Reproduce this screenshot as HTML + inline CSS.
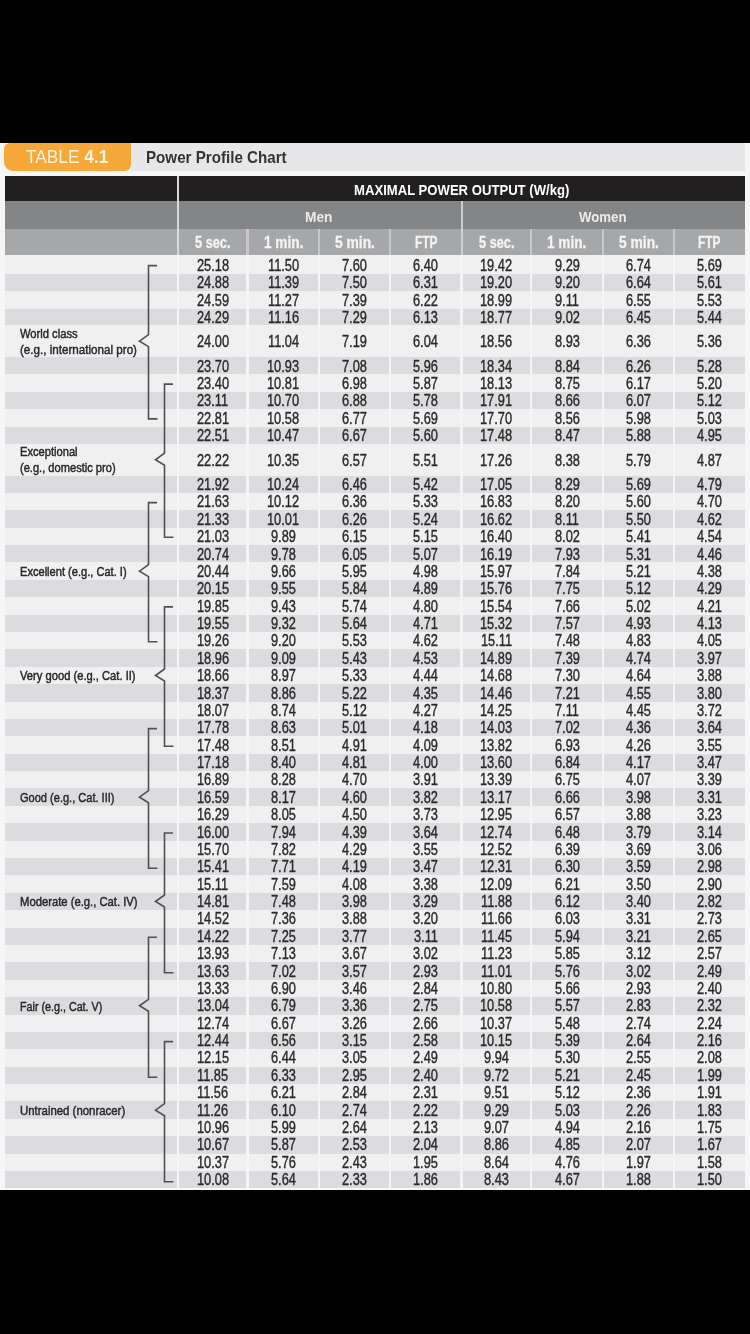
<!DOCTYPE html><html><head><meta charset="utf-8"><style>
html,body{margin:0;padding:0;background:#000;}
body{filter:blur(0.35px);width:750px;height:1334px;background:#000;position:relative;overflow:hidden;font-family:"Liberation Sans",sans-serif;}
.a{position:absolute;}
.t{position:absolute;white-space:nowrap;transform-origin:0 0;line-height:1;}
</style></head><body>

<div class="a" style="left:0;top:143px;width:750px;height:1047px;background:#f6f6f6"></div>
<div class="a" style="left:131px;top:143px;width:614px;height:27.6px;background:#e7e7e9"></div>
<div class="a" style="left:3.5px;top:143px;width:127.5px;height:27.5px;background:#f6a839;border-radius:6px 0 6px 9px"></div>
<div class="a" style="left:5px;top:175.7px;width:740px;height:25.7px;background:#221f20"></div>
<div class="a" style="left:5px;top:201.4px;width:740px;height:27.5px;background:#848587"></div>
<div class="a" style="left:5px;top:228.9px;width:740px;height:26.4px;background:#a6a7a9"></div>
<div class="a" style="left:5px;top:255.30px;width:740px;height:18.75px;background:#f0f0f1"></div>
<div class="a" style="left:5px;top:274.00px;width:740px;height:16.65px;background:#dcdce0"></div>
<div class="a" style="left:5px;top:290.60px;width:740px;height:18.05px;background:#f0f0f1"></div>
<div class="a" style="left:5px;top:308.60px;width:740px;height:16.85px;background:#dcdce0"></div>
<div class="a" style="left:5px;top:325.40px;width:740px;height:31.45px;background:#f0f0f1"></div>
<div class="a" style="left:5px;top:356.80px;width:740px;height:17.65px;background:#dcdce0"></div>
<div class="a" style="left:5px;top:374.40px;width:740px;height:17.55px;background:#f0f0f1"></div>
<div class="a" style="left:5px;top:391.90px;width:740px;height:17.45px;background:#dcdce0"></div>
<div class="a" style="left:5px;top:409.30px;width:740px;height:17.65px;background:#f0f0f1"></div>
<div class="a" style="left:5px;top:426.90px;width:740px;height:17.15px;background:#dcdce0"></div>
<div class="a" style="left:5px;top:444.00px;width:740px;height:31.55px;background:#f0f0f1"></div>
<div class="a" style="left:5px;top:475.50px;width:740px;height:17.44px;background:#dcdce0"></div>
<div class="a" style="left:5px;top:492.89px;width:740px;height:17.44px;background:#f0f0f1"></div>
<div class="a" style="left:5px;top:510.28px;width:740px;height:17.44px;background:#dcdce0"></div>
<div class="a" style="left:5px;top:527.66px;width:740px;height:17.44px;background:#f0f0f1"></div>
<div class="a" style="left:5px;top:545.05px;width:740px;height:17.44px;background:#dcdce0"></div>
<div class="a" style="left:5px;top:562.44px;width:740px;height:17.44px;background:#f0f0f1"></div>
<div class="a" style="left:5px;top:579.83px;width:740px;height:17.44px;background:#dcdce0"></div>
<div class="a" style="left:5px;top:597.21px;width:740px;height:17.44px;background:#f0f0f1"></div>
<div class="a" style="left:5px;top:614.60px;width:740px;height:17.44px;background:#dcdce0"></div>
<div class="a" style="left:5px;top:631.99px;width:740px;height:17.44px;background:#f0f0f1"></div>
<div class="a" style="left:5px;top:649.38px;width:740px;height:17.44px;background:#dcdce0"></div>
<div class="a" style="left:5px;top:666.77px;width:740px;height:17.44px;background:#f0f0f1"></div>
<div class="a" style="left:5px;top:684.15px;width:740px;height:17.44px;background:#dcdce0"></div>
<div class="a" style="left:5px;top:701.54px;width:740px;height:17.44px;background:#f0f0f1"></div>
<div class="a" style="left:5px;top:718.93px;width:740px;height:17.44px;background:#dcdce0"></div>
<div class="a" style="left:5px;top:736.32px;width:740px;height:17.44px;background:#f0f0f1"></div>
<div class="a" style="left:5px;top:753.70px;width:740px;height:17.44px;background:#dcdce0"></div>
<div class="a" style="left:5px;top:771.09px;width:740px;height:17.44px;background:#f0f0f1"></div>
<div class="a" style="left:5px;top:788.48px;width:740px;height:17.44px;background:#dcdce0"></div>
<div class="a" style="left:5px;top:805.87px;width:740px;height:17.44px;background:#f0f0f1"></div>
<div class="a" style="left:5px;top:823.26px;width:740px;height:17.44px;background:#dcdce0"></div>
<div class="a" style="left:5px;top:840.64px;width:740px;height:17.44px;background:#f0f0f1"></div>
<div class="a" style="left:5px;top:858.03px;width:740px;height:17.44px;background:#dcdce0"></div>
<div class="a" style="left:5px;top:875.42px;width:740px;height:17.44px;background:#f0f0f1"></div>
<div class="a" style="left:5px;top:892.81px;width:740px;height:17.44px;background:#dcdce0"></div>
<div class="a" style="left:5px;top:910.20px;width:740px;height:17.44px;background:#f0f0f1"></div>
<div class="a" style="left:5px;top:927.58px;width:740px;height:17.44px;background:#dcdce0"></div>
<div class="a" style="left:5px;top:944.97px;width:740px;height:17.44px;background:#f0f0f1"></div>
<div class="a" style="left:5px;top:962.36px;width:740px;height:17.44px;background:#dcdce0"></div>
<div class="a" style="left:5px;top:979.75px;width:740px;height:17.44px;background:#f0f0f1"></div>
<div class="a" style="left:5px;top:997.13px;width:740px;height:17.44px;background:#dcdce0"></div>
<div class="a" style="left:5px;top:1014.52px;width:740px;height:17.44px;background:#f0f0f1"></div>
<div class="a" style="left:5px;top:1031.91px;width:740px;height:17.44px;background:#dcdce0"></div>
<div class="a" style="left:5px;top:1049.30px;width:740px;height:17.44px;background:#f0f0f1"></div>
<div class="a" style="left:5px;top:1066.69px;width:740px;height:17.44px;background:#dcdce0"></div>
<div class="a" style="left:5px;top:1084.07px;width:740px;height:17.44px;background:#f0f0f1"></div>
<div class="a" style="left:5px;top:1101.46px;width:740px;height:17.44px;background:#dcdce0"></div>
<div class="a" style="left:5px;top:1118.85px;width:740px;height:17.44px;background:#f0f0f1"></div>
<div class="a" style="left:5px;top:1136.24px;width:740px;height:17.44px;background:#dcdce0"></div>
<div class="a" style="left:5px;top:1153.62px;width:740px;height:17.44px;background:#f0f0f1"></div>
<div class="a" style="left:5px;top:1171.01px;width:740px;height:17.44px;background:#dcdce0"></div>
<div class="a" style="left:0;top:1188.4px;width:750px;height:1.4px;background:#f8f8f8"></div>
<div class="a" style="left:176.50px;top:175.7px;width:2.4px;height:79.6px;background:#d8d8da"></div>
<div class="a" style="left:176.50px;top:255.3px;width:2.4px;height:933.1px;background:#f6f6f7"></div>
<div class="a" style="left:460.50px;top:201.4px;width:2.0px;height:53.9px;background:#cfcfd1"></div>
<div class="a" style="left:460.40px;top:255.3px;width:2.2px;height:933.1px;background:#f5f5f6"></div>
<div class="a" style="left:246.40px;top:228.9px;width:2.2px;height:26.4px;background:#c8c8ca"></div>
<div class="a" style="left:246.40px;top:255.3px;width:2.2px;height:933.1px;background:#f5f5f6"></div>
<div class="a" style="left:317.70px;top:228.9px;width:2.2px;height:26.4px;background:#c8c8ca"></div>
<div class="a" style="left:317.70px;top:255.3px;width:2.2px;height:933.1px;background:#f5f5f6"></div>
<div class="a" style="left:389.10px;top:228.9px;width:2.2px;height:26.4px;background:#c8c8ca"></div>
<div class="a" style="left:389.10px;top:255.3px;width:2.2px;height:933.1px;background:#f5f5f6"></div>
<div class="a" style="left:529.90px;top:228.9px;width:2.2px;height:26.4px;background:#c8c8ca"></div>
<div class="a" style="left:529.90px;top:255.3px;width:2.2px;height:933.1px;background:#f5f5f6"></div>
<div class="a" style="left:601.90px;top:228.9px;width:2.2px;height:26.4px;background:#c8c8ca"></div>
<div class="a" style="left:601.90px;top:255.3px;width:2.2px;height:933.1px;background:#f5f5f6"></div>
<div class="a" style="left:673.20px;top:228.9px;width:2.2px;height:26.4px;background:#c8c8ca"></div>
<div class="a" style="left:673.20px;top:255.3px;width:2.2px;height:933.1px;background:#f5f5f6"></div>
<div class="t" style="left:25.60px;top:147.76px;font-size:18px;color:#fdf2dc;transform:scaleX(0.9613);">TABLE <b>4.1</b></div>
<div class="t" style="left:145.90px;top:148.73px;font-size:16.5px;font-weight:bold;color:#333333;transform:scaleX(0.9182);">Power Profile Chart</div>
<div class="t" style="left:354.00px;top:182.20px;font-size:15px;font-weight:bold;color:#ffffff;transform:scaleX(0.8739);">MAXIMAL POWER OUTPUT (W/kg)</div>
<div class="t" style="left:305.15px;top:209.93px;font-size:14.5px;font-weight:bold;color:#ebebeb;transform:scaleX(0.9482);">Men</div>
<div class="t" style="left:578.95px;top:209.53px;font-size:14.5px;font-weight:bold;color:#ebebeb;transform:scaleX(0.9118);">Women</div>
<div class="t" style="left:194.85px;top:234.66px;font-size:16px;font-weight:bold;color:#f4f4f4;transform:scaleX(0.7980);-webkit-text-stroke:0.3px #f4f4f4">5 sec.</div>
<div class="t" style="left:263.55px;top:234.66px;font-size:16px;font-weight:bold;color:#f4f4f4;transform:scaleX(0.8479);-webkit-text-stroke:0.3px #f4f4f4">1 min.</div>
<div class="t" style="left:334.55px;top:234.66px;font-size:16px;font-weight:bold;color:#f4f4f4;transform:scaleX(0.8630);-webkit-text-stroke:0.3px #f4f4f4">5 min.</div>
<div class="t" style="left:414.60px;top:234.66px;font-size:16px;font-weight:bold;color:#f4f4f4;transform:scaleX(0.7445);-webkit-text-stroke:0.3px #f4f4f4">FTP</div>
<div class="t" style="left:478.50px;top:234.66px;font-size:16px;font-weight:bold;color:#f4f4f4;transform:scaleX(0.7980);-webkit-text-stroke:0.3px #f4f4f4">5 sec.</div>
<div class="t" style="left:547.40px;top:234.66px;font-size:16px;font-weight:bold;color:#f4f4f4;transform:scaleX(0.8479);-webkit-text-stroke:0.3px #f4f4f4">1 min.</div>
<div class="t" style="left:618.70px;top:234.66px;font-size:16px;font-weight:bold;color:#f4f4f4;transform:scaleX(0.8630);-webkit-text-stroke:0.3px #f4f4f4">5 min.</div>
<div class="t" style="left:698.40px;top:234.66px;font-size:16px;font-weight:bold;color:#f4f4f4;transform:scaleX(0.7445);-webkit-text-stroke:0.3px #f4f4f4">FTP</div>
<div class="t" style="left:196.58px;top:257.61px;font-size:16px;font-weight:normal;color:#2a2a2a;transform:scaleX(0.8000);-webkit-text-stroke:0.4px #2a2a2a">25.18</div>
<div class="t" style="left:267.61px;top:257.61px;font-size:16px;font-weight:normal;color:#2a2a2a;transform:scaleX(0.8000);-webkit-text-stroke:0.4px #2a2a2a">11.50</div>
<div class="t" style="left:342.04px;top:257.61px;font-size:16px;font-weight:normal;color:#2a2a2a;transform:scaleX(0.8000);-webkit-text-stroke:0.4px #2a2a2a">7.60</div>
<div class="t" style="left:413.39px;top:257.61px;font-size:16px;font-weight:normal;color:#2a2a2a;transform:scaleX(0.8000);-webkit-text-stroke:0.4px #2a2a2a">6.40</div>
<div class="t" style="left:480.23px;top:257.61px;font-size:16px;font-weight:normal;color:#2a2a2a;transform:scaleX(0.8000);-webkit-text-stroke:0.4px #2a2a2a">19.42</div>
<div class="t" style="left:554.54px;top:257.61px;font-size:16px;font-weight:normal;color:#2a2a2a;transform:scaleX(0.8000);-webkit-text-stroke:0.4px #2a2a2a">9.29</div>
<div class="t" style="left:626.19px;top:257.61px;font-size:16px;font-weight:normal;color:#2a2a2a;transform:scaleX(0.8000);-webkit-text-stroke:0.4px #2a2a2a">6.74</div>
<div class="t" style="left:697.19px;top:257.61px;font-size:16px;font-weight:normal;color:#2a2a2a;transform:scaleX(0.8000);-webkit-text-stroke:0.4px #2a2a2a">5.69</div>
<div class="t" style="left:196.58px;top:275.24px;font-size:16px;font-weight:normal;color:#2a2a2a;transform:scaleX(0.8000);-webkit-text-stroke:0.4px #2a2a2a">24.88</div>
<div class="t" style="left:267.61px;top:275.24px;font-size:16px;font-weight:normal;color:#2a2a2a;transform:scaleX(0.8000);-webkit-text-stroke:0.4px #2a2a2a">11.39</div>
<div class="t" style="left:342.04px;top:275.24px;font-size:16px;font-weight:normal;color:#2a2a2a;transform:scaleX(0.8000);-webkit-text-stroke:0.4px #2a2a2a">7.50</div>
<div class="t" style="left:413.39px;top:275.24px;font-size:16px;font-weight:normal;color:#2a2a2a;transform:scaleX(0.8000);-webkit-text-stroke:0.4px #2a2a2a">6.31</div>
<div class="t" style="left:480.23px;top:275.24px;font-size:16px;font-weight:normal;color:#2a2a2a;transform:scaleX(0.8000);-webkit-text-stroke:0.4px #2a2a2a">19.20</div>
<div class="t" style="left:554.54px;top:275.24px;font-size:16px;font-weight:normal;color:#2a2a2a;transform:scaleX(0.8000);-webkit-text-stroke:0.4px #2a2a2a">9.20</div>
<div class="t" style="left:626.19px;top:275.24px;font-size:16px;font-weight:normal;color:#2a2a2a;transform:scaleX(0.8000);-webkit-text-stroke:0.4px #2a2a2a">6.64</div>
<div class="t" style="left:697.19px;top:275.24px;font-size:16px;font-weight:normal;color:#2a2a2a;transform:scaleX(0.8000);-webkit-text-stroke:0.4px #2a2a2a">5.61</div>
<div class="t" style="left:196.58px;top:292.53px;font-size:16px;font-weight:normal;color:#2a2a2a;transform:scaleX(0.8000);-webkit-text-stroke:0.4px #2a2a2a">24.59</div>
<div class="t" style="left:267.61px;top:292.53px;font-size:16px;font-weight:normal;color:#2a2a2a;transform:scaleX(0.8000);-webkit-text-stroke:0.4px #2a2a2a">11.27</div>
<div class="t" style="left:342.04px;top:292.53px;font-size:16px;font-weight:normal;color:#2a2a2a;transform:scaleX(0.8000);-webkit-text-stroke:0.4px #2a2a2a">7.39</div>
<div class="t" style="left:413.39px;top:292.53px;font-size:16px;font-weight:normal;color:#2a2a2a;transform:scaleX(0.8000);-webkit-text-stroke:0.4px #2a2a2a">6.22</div>
<div class="t" style="left:480.23px;top:292.53px;font-size:16px;font-weight:normal;color:#2a2a2a;transform:scaleX(0.8000);-webkit-text-stroke:0.4px #2a2a2a">18.99</div>
<div class="t" style="left:555.02px;top:292.53px;font-size:16px;font-weight:normal;color:#2a2a2a;transform:scaleX(0.8000);-webkit-text-stroke:0.4px #2a2a2a">9.11</div>
<div class="t" style="left:626.19px;top:292.53px;font-size:16px;font-weight:normal;color:#2a2a2a;transform:scaleX(0.8000);-webkit-text-stroke:0.4px #2a2a2a">6.55</div>
<div class="t" style="left:697.19px;top:292.53px;font-size:16px;font-weight:normal;color:#2a2a2a;transform:scaleX(0.8000);-webkit-text-stroke:0.4px #2a2a2a">5.53</div>
<div class="t" style="left:196.58px;top:309.92px;font-size:16px;font-weight:normal;color:#2a2a2a;transform:scaleX(0.8000);-webkit-text-stroke:0.4px #2a2a2a">24.29</div>
<div class="t" style="left:267.61px;top:309.92px;font-size:16px;font-weight:normal;color:#2a2a2a;transform:scaleX(0.8000);-webkit-text-stroke:0.4px #2a2a2a">11.16</div>
<div class="t" style="left:342.04px;top:309.92px;font-size:16px;font-weight:normal;color:#2a2a2a;transform:scaleX(0.8000);-webkit-text-stroke:0.4px #2a2a2a">7.29</div>
<div class="t" style="left:413.39px;top:309.92px;font-size:16px;font-weight:normal;color:#2a2a2a;transform:scaleX(0.8000);-webkit-text-stroke:0.4px #2a2a2a">6.13</div>
<div class="t" style="left:480.23px;top:309.92px;font-size:16px;font-weight:normal;color:#2a2a2a;transform:scaleX(0.8000);-webkit-text-stroke:0.4px #2a2a2a">18.77</div>
<div class="t" style="left:554.54px;top:309.92px;font-size:16px;font-weight:normal;color:#2a2a2a;transform:scaleX(0.8000);-webkit-text-stroke:0.4px #2a2a2a">9.02</div>
<div class="t" style="left:626.19px;top:309.92px;font-size:16px;font-weight:normal;color:#2a2a2a;transform:scaleX(0.8000);-webkit-text-stroke:0.4px #2a2a2a">6.45</div>
<div class="t" style="left:697.19px;top:309.92px;font-size:16px;font-weight:normal;color:#2a2a2a;transform:scaleX(0.8000);-webkit-text-stroke:0.4px #2a2a2a">5.44</div>
<div class="t" style="left:196.58px;top:334.01px;font-size:16px;font-weight:normal;color:#2a2a2a;transform:scaleX(0.8000);-webkit-text-stroke:0.4px #2a2a2a">24.00</div>
<div class="t" style="left:267.61px;top:334.01px;font-size:16px;font-weight:normal;color:#2a2a2a;transform:scaleX(0.8000);-webkit-text-stroke:0.4px #2a2a2a">11.04</div>
<div class="t" style="left:342.04px;top:334.01px;font-size:16px;font-weight:normal;color:#2a2a2a;transform:scaleX(0.8000);-webkit-text-stroke:0.4px #2a2a2a">7.19</div>
<div class="t" style="left:413.39px;top:334.01px;font-size:16px;font-weight:normal;color:#2a2a2a;transform:scaleX(0.8000);-webkit-text-stroke:0.4px #2a2a2a">6.04</div>
<div class="t" style="left:480.23px;top:334.01px;font-size:16px;font-weight:normal;color:#2a2a2a;transform:scaleX(0.8000);-webkit-text-stroke:0.4px #2a2a2a">18.56</div>
<div class="t" style="left:554.54px;top:334.01px;font-size:16px;font-weight:normal;color:#2a2a2a;transform:scaleX(0.8000);-webkit-text-stroke:0.4px #2a2a2a">8.93</div>
<div class="t" style="left:626.19px;top:334.01px;font-size:16px;font-weight:normal;color:#2a2a2a;transform:scaleX(0.8000);-webkit-text-stroke:0.4px #2a2a2a">6.36</div>
<div class="t" style="left:697.19px;top:334.01px;font-size:16px;font-weight:normal;color:#2a2a2a;transform:scaleX(0.8000);-webkit-text-stroke:0.4px #2a2a2a">5.36</div>
<div class="t" style="left:196.58px;top:358.50px;font-size:16px;font-weight:normal;color:#2a2a2a;transform:scaleX(0.8000);-webkit-text-stroke:0.4px #2a2a2a">23.70</div>
<div class="t" style="left:267.13px;top:358.50px;font-size:16px;font-weight:normal;color:#2a2a2a;transform:scaleX(0.8000);-webkit-text-stroke:0.4px #2a2a2a">10.93</div>
<div class="t" style="left:342.04px;top:358.50px;font-size:16px;font-weight:normal;color:#2a2a2a;transform:scaleX(0.8000);-webkit-text-stroke:0.4px #2a2a2a">7.08</div>
<div class="t" style="left:413.39px;top:358.50px;font-size:16px;font-weight:normal;color:#2a2a2a;transform:scaleX(0.8000);-webkit-text-stroke:0.4px #2a2a2a">5.96</div>
<div class="t" style="left:480.23px;top:358.50px;font-size:16px;font-weight:normal;color:#2a2a2a;transform:scaleX(0.8000);-webkit-text-stroke:0.4px #2a2a2a">18.34</div>
<div class="t" style="left:554.54px;top:358.50px;font-size:16px;font-weight:normal;color:#2a2a2a;transform:scaleX(0.8000);-webkit-text-stroke:0.4px #2a2a2a">8.84</div>
<div class="t" style="left:626.19px;top:358.50px;font-size:16px;font-weight:normal;color:#2a2a2a;transform:scaleX(0.8000);-webkit-text-stroke:0.4px #2a2a2a">6.26</div>
<div class="t" style="left:697.19px;top:358.50px;font-size:16px;font-weight:normal;color:#2a2a2a;transform:scaleX(0.8000);-webkit-text-stroke:0.4px #2a2a2a">5.28</div>
<div class="t" style="left:196.58px;top:376.04px;font-size:16px;font-weight:normal;color:#2a2a2a;transform:scaleX(0.8000);-webkit-text-stroke:0.4px #2a2a2a">23.40</div>
<div class="t" style="left:267.13px;top:376.04px;font-size:16px;font-weight:normal;color:#2a2a2a;transform:scaleX(0.8000);-webkit-text-stroke:0.4px #2a2a2a">10.81</div>
<div class="t" style="left:342.04px;top:376.04px;font-size:16px;font-weight:normal;color:#2a2a2a;transform:scaleX(0.8000);-webkit-text-stroke:0.4px #2a2a2a">6.98</div>
<div class="t" style="left:413.39px;top:376.04px;font-size:16px;font-weight:normal;color:#2a2a2a;transform:scaleX(0.8000);-webkit-text-stroke:0.4px #2a2a2a">5.87</div>
<div class="t" style="left:480.23px;top:376.04px;font-size:16px;font-weight:normal;color:#2a2a2a;transform:scaleX(0.8000);-webkit-text-stroke:0.4px #2a2a2a">18.13</div>
<div class="t" style="left:554.54px;top:376.04px;font-size:16px;font-weight:normal;color:#2a2a2a;transform:scaleX(0.8000);-webkit-text-stroke:0.4px #2a2a2a">8.75</div>
<div class="t" style="left:626.19px;top:376.04px;font-size:16px;font-weight:normal;color:#2a2a2a;transform:scaleX(0.8000);-webkit-text-stroke:0.4px #2a2a2a">6.17</div>
<div class="t" style="left:697.19px;top:376.04px;font-size:16px;font-weight:normal;color:#2a2a2a;transform:scaleX(0.8000);-webkit-text-stroke:0.4px #2a2a2a">5.20</div>
<div class="t" style="left:197.06px;top:393.47px;font-size:16px;font-weight:normal;color:#2a2a2a;transform:scaleX(0.8000);-webkit-text-stroke:0.4px #2a2a2a">23.11</div>
<div class="t" style="left:267.13px;top:393.47px;font-size:16px;font-weight:normal;color:#2a2a2a;transform:scaleX(0.8000);-webkit-text-stroke:0.4px #2a2a2a">10.70</div>
<div class="t" style="left:342.04px;top:393.47px;font-size:16px;font-weight:normal;color:#2a2a2a;transform:scaleX(0.8000);-webkit-text-stroke:0.4px #2a2a2a">6.88</div>
<div class="t" style="left:413.39px;top:393.47px;font-size:16px;font-weight:normal;color:#2a2a2a;transform:scaleX(0.8000);-webkit-text-stroke:0.4px #2a2a2a">5.78</div>
<div class="t" style="left:480.23px;top:393.47px;font-size:16px;font-weight:normal;color:#2a2a2a;transform:scaleX(0.8000);-webkit-text-stroke:0.4px #2a2a2a">17.91</div>
<div class="t" style="left:554.54px;top:393.47px;font-size:16px;font-weight:normal;color:#2a2a2a;transform:scaleX(0.8000);-webkit-text-stroke:0.4px #2a2a2a">8.66</div>
<div class="t" style="left:626.19px;top:393.47px;font-size:16px;font-weight:normal;color:#2a2a2a;transform:scaleX(0.8000);-webkit-text-stroke:0.4px #2a2a2a">6.07</div>
<div class="t" style="left:697.19px;top:393.47px;font-size:16px;font-weight:normal;color:#2a2a2a;transform:scaleX(0.8000);-webkit-text-stroke:0.4px #2a2a2a">5.12</div>
<div class="t" style="left:196.58px;top:410.96px;font-size:16px;font-weight:normal;color:#2a2a2a;transform:scaleX(0.8000);-webkit-text-stroke:0.4px #2a2a2a">22.81</div>
<div class="t" style="left:267.13px;top:410.96px;font-size:16px;font-weight:normal;color:#2a2a2a;transform:scaleX(0.8000);-webkit-text-stroke:0.4px #2a2a2a">10.58</div>
<div class="t" style="left:342.04px;top:410.96px;font-size:16px;font-weight:normal;color:#2a2a2a;transform:scaleX(0.8000);-webkit-text-stroke:0.4px #2a2a2a">6.77</div>
<div class="t" style="left:413.39px;top:410.96px;font-size:16px;font-weight:normal;color:#2a2a2a;transform:scaleX(0.8000);-webkit-text-stroke:0.4px #2a2a2a">5.69</div>
<div class="t" style="left:480.23px;top:410.96px;font-size:16px;font-weight:normal;color:#2a2a2a;transform:scaleX(0.8000);-webkit-text-stroke:0.4px #2a2a2a">17.70</div>
<div class="t" style="left:554.54px;top:410.96px;font-size:16px;font-weight:normal;color:#2a2a2a;transform:scaleX(0.8000);-webkit-text-stroke:0.4px #2a2a2a">8.56</div>
<div class="t" style="left:626.19px;top:410.96px;font-size:16px;font-weight:normal;color:#2a2a2a;transform:scaleX(0.8000);-webkit-text-stroke:0.4px #2a2a2a">5.98</div>
<div class="t" style="left:697.19px;top:410.96px;font-size:16px;font-weight:normal;color:#2a2a2a;transform:scaleX(0.8000);-webkit-text-stroke:0.4px #2a2a2a">5.03</div>
<div class="t" style="left:196.58px;top:428.30px;font-size:16px;font-weight:normal;color:#2a2a2a;transform:scaleX(0.8000);-webkit-text-stroke:0.4px #2a2a2a">22.51</div>
<div class="t" style="left:267.13px;top:428.30px;font-size:16px;font-weight:normal;color:#2a2a2a;transform:scaleX(0.8000);-webkit-text-stroke:0.4px #2a2a2a">10.47</div>
<div class="t" style="left:342.04px;top:428.30px;font-size:16px;font-weight:normal;color:#2a2a2a;transform:scaleX(0.8000);-webkit-text-stroke:0.4px #2a2a2a">6.67</div>
<div class="t" style="left:413.39px;top:428.30px;font-size:16px;font-weight:normal;color:#2a2a2a;transform:scaleX(0.8000);-webkit-text-stroke:0.4px #2a2a2a">5.60</div>
<div class="t" style="left:480.23px;top:428.30px;font-size:16px;font-weight:normal;color:#2a2a2a;transform:scaleX(0.8000);-webkit-text-stroke:0.4px #2a2a2a">17.48</div>
<div class="t" style="left:554.54px;top:428.30px;font-size:16px;font-weight:normal;color:#2a2a2a;transform:scaleX(0.8000);-webkit-text-stroke:0.4px #2a2a2a">8.47</div>
<div class="t" style="left:626.19px;top:428.30px;font-size:16px;font-weight:normal;color:#2a2a2a;transform:scaleX(0.8000);-webkit-text-stroke:0.4px #2a2a2a">5.88</div>
<div class="t" style="left:697.19px;top:428.30px;font-size:16px;font-weight:normal;color:#2a2a2a;transform:scaleX(0.8000);-webkit-text-stroke:0.4px #2a2a2a">4.95</div>
<div class="t" style="left:196.58px;top:452.59px;font-size:16px;font-weight:normal;color:#2a2a2a;transform:scaleX(0.8000);-webkit-text-stroke:0.4px #2a2a2a">22.22</div>
<div class="t" style="left:267.13px;top:452.59px;font-size:16px;font-weight:normal;color:#2a2a2a;transform:scaleX(0.8000);-webkit-text-stroke:0.4px #2a2a2a">10.35</div>
<div class="t" style="left:342.04px;top:452.59px;font-size:16px;font-weight:normal;color:#2a2a2a;transform:scaleX(0.8000);-webkit-text-stroke:0.4px #2a2a2a">6.57</div>
<div class="t" style="left:413.39px;top:452.59px;font-size:16px;font-weight:normal;color:#2a2a2a;transform:scaleX(0.8000);-webkit-text-stroke:0.4px #2a2a2a">5.51</div>
<div class="t" style="left:480.23px;top:452.59px;font-size:16px;font-weight:normal;color:#2a2a2a;transform:scaleX(0.8000);-webkit-text-stroke:0.4px #2a2a2a">17.26</div>
<div class="t" style="left:554.54px;top:452.59px;font-size:16px;font-weight:normal;color:#2a2a2a;transform:scaleX(0.8000);-webkit-text-stroke:0.4px #2a2a2a">8.38</div>
<div class="t" style="left:626.19px;top:452.59px;font-size:16px;font-weight:normal;color:#2a2a2a;transform:scaleX(0.8000);-webkit-text-stroke:0.4px #2a2a2a">5.79</div>
<div class="t" style="left:697.19px;top:452.59px;font-size:16px;font-weight:normal;color:#2a2a2a;transform:scaleX(0.8000);-webkit-text-stroke:0.4px #2a2a2a">4.87</div>
<div class="t" style="left:196.58px;top:477.02px;font-size:16px;font-weight:normal;color:#2a2a2a;transform:scaleX(0.8000);-webkit-text-stroke:0.4px #2a2a2a">21.92</div>
<div class="t" style="left:267.13px;top:477.02px;font-size:16px;font-weight:normal;color:#2a2a2a;transform:scaleX(0.8000);-webkit-text-stroke:0.4px #2a2a2a">10.24</div>
<div class="t" style="left:342.04px;top:477.02px;font-size:16px;font-weight:normal;color:#2a2a2a;transform:scaleX(0.8000);-webkit-text-stroke:0.4px #2a2a2a">6.46</div>
<div class="t" style="left:413.39px;top:477.02px;font-size:16px;font-weight:normal;color:#2a2a2a;transform:scaleX(0.8000);-webkit-text-stroke:0.4px #2a2a2a">5.42</div>
<div class="t" style="left:480.23px;top:477.02px;font-size:16px;font-weight:normal;color:#2a2a2a;transform:scaleX(0.8000);-webkit-text-stroke:0.4px #2a2a2a">17.05</div>
<div class="t" style="left:554.54px;top:477.02px;font-size:16px;font-weight:normal;color:#2a2a2a;transform:scaleX(0.8000);-webkit-text-stroke:0.4px #2a2a2a">8.29</div>
<div class="t" style="left:626.19px;top:477.02px;font-size:16px;font-weight:normal;color:#2a2a2a;transform:scaleX(0.8000);-webkit-text-stroke:0.4px #2a2a2a">5.69</div>
<div class="t" style="left:697.19px;top:477.02px;font-size:16px;font-weight:normal;color:#2a2a2a;transform:scaleX(0.8000);-webkit-text-stroke:0.4px #2a2a2a">4.79</div>
<div class="t" style="left:196.58px;top:494.40px;font-size:16px;font-weight:normal;color:#2a2a2a;transform:scaleX(0.8000);-webkit-text-stroke:0.4px #2a2a2a">21.63</div>
<div class="t" style="left:267.13px;top:494.40px;font-size:16px;font-weight:normal;color:#2a2a2a;transform:scaleX(0.8000);-webkit-text-stroke:0.4px #2a2a2a">10.12</div>
<div class="t" style="left:342.04px;top:494.40px;font-size:16px;font-weight:normal;color:#2a2a2a;transform:scaleX(0.8000);-webkit-text-stroke:0.4px #2a2a2a">6.36</div>
<div class="t" style="left:413.39px;top:494.40px;font-size:16px;font-weight:normal;color:#2a2a2a;transform:scaleX(0.8000);-webkit-text-stroke:0.4px #2a2a2a">5.33</div>
<div class="t" style="left:480.23px;top:494.40px;font-size:16px;font-weight:normal;color:#2a2a2a;transform:scaleX(0.8000);-webkit-text-stroke:0.4px #2a2a2a">16.83</div>
<div class="t" style="left:554.54px;top:494.40px;font-size:16px;font-weight:normal;color:#2a2a2a;transform:scaleX(0.8000);-webkit-text-stroke:0.4px #2a2a2a">8.20</div>
<div class="t" style="left:626.19px;top:494.40px;font-size:16px;font-weight:normal;color:#2a2a2a;transform:scaleX(0.8000);-webkit-text-stroke:0.4px #2a2a2a">5.60</div>
<div class="t" style="left:697.19px;top:494.40px;font-size:16px;font-weight:normal;color:#2a2a2a;transform:scaleX(0.8000);-webkit-text-stroke:0.4px #2a2a2a">4.70</div>
<div class="t" style="left:196.58px;top:511.77px;font-size:16px;font-weight:normal;color:#2a2a2a;transform:scaleX(0.8000);-webkit-text-stroke:0.4px #2a2a2a">21.33</div>
<div class="t" style="left:267.13px;top:511.77px;font-size:16px;font-weight:normal;color:#2a2a2a;transform:scaleX(0.8000);-webkit-text-stroke:0.4px #2a2a2a">10.01</div>
<div class="t" style="left:342.04px;top:511.77px;font-size:16px;font-weight:normal;color:#2a2a2a;transform:scaleX(0.8000);-webkit-text-stroke:0.4px #2a2a2a">6.26</div>
<div class="t" style="left:413.39px;top:511.77px;font-size:16px;font-weight:normal;color:#2a2a2a;transform:scaleX(0.8000);-webkit-text-stroke:0.4px #2a2a2a">5.24</div>
<div class="t" style="left:480.23px;top:511.77px;font-size:16px;font-weight:normal;color:#2a2a2a;transform:scaleX(0.8000);-webkit-text-stroke:0.4px #2a2a2a">16.62</div>
<div class="t" style="left:555.02px;top:511.77px;font-size:16px;font-weight:normal;color:#2a2a2a;transform:scaleX(0.8000);-webkit-text-stroke:0.4px #2a2a2a">8.11</div>
<div class="t" style="left:626.19px;top:511.77px;font-size:16px;font-weight:normal;color:#2a2a2a;transform:scaleX(0.8000);-webkit-text-stroke:0.4px #2a2a2a">5.50</div>
<div class="t" style="left:697.19px;top:511.77px;font-size:16px;font-weight:normal;color:#2a2a2a;transform:scaleX(0.8000);-webkit-text-stroke:0.4px #2a2a2a">4.62</div>
<div class="t" style="left:196.58px;top:529.15px;font-size:16px;font-weight:normal;color:#2a2a2a;transform:scaleX(0.8000);-webkit-text-stroke:0.4px #2a2a2a">21.03</div>
<div class="t" style="left:270.69px;top:529.15px;font-size:16px;font-weight:normal;color:#2a2a2a;transform:scaleX(0.8000);-webkit-text-stroke:0.4px #2a2a2a">9.89</div>
<div class="t" style="left:342.04px;top:529.15px;font-size:16px;font-weight:normal;color:#2a2a2a;transform:scaleX(0.8000);-webkit-text-stroke:0.4px #2a2a2a">6.15</div>
<div class="t" style="left:413.39px;top:529.15px;font-size:16px;font-weight:normal;color:#2a2a2a;transform:scaleX(0.8000);-webkit-text-stroke:0.4px #2a2a2a">5.15</div>
<div class="t" style="left:480.23px;top:529.15px;font-size:16px;font-weight:normal;color:#2a2a2a;transform:scaleX(0.8000);-webkit-text-stroke:0.4px #2a2a2a">16.40</div>
<div class="t" style="left:554.54px;top:529.15px;font-size:16px;font-weight:normal;color:#2a2a2a;transform:scaleX(0.8000);-webkit-text-stroke:0.4px #2a2a2a">8.02</div>
<div class="t" style="left:626.19px;top:529.15px;font-size:16px;font-weight:normal;color:#2a2a2a;transform:scaleX(0.8000);-webkit-text-stroke:0.4px #2a2a2a">5.41</div>
<div class="t" style="left:697.19px;top:529.15px;font-size:16px;font-weight:normal;color:#2a2a2a;transform:scaleX(0.8000);-webkit-text-stroke:0.4px #2a2a2a">4.54</div>
<div class="t" style="left:196.58px;top:546.52px;font-size:16px;font-weight:normal;color:#2a2a2a;transform:scaleX(0.8000);-webkit-text-stroke:0.4px #2a2a2a">20.74</div>
<div class="t" style="left:270.69px;top:546.52px;font-size:16px;font-weight:normal;color:#2a2a2a;transform:scaleX(0.8000);-webkit-text-stroke:0.4px #2a2a2a">9.78</div>
<div class="t" style="left:342.04px;top:546.52px;font-size:16px;font-weight:normal;color:#2a2a2a;transform:scaleX(0.8000);-webkit-text-stroke:0.4px #2a2a2a">6.05</div>
<div class="t" style="left:413.39px;top:546.52px;font-size:16px;font-weight:normal;color:#2a2a2a;transform:scaleX(0.8000);-webkit-text-stroke:0.4px #2a2a2a">5.07</div>
<div class="t" style="left:480.23px;top:546.52px;font-size:16px;font-weight:normal;color:#2a2a2a;transform:scaleX(0.8000);-webkit-text-stroke:0.4px #2a2a2a">16.19</div>
<div class="t" style="left:554.54px;top:546.52px;font-size:16px;font-weight:normal;color:#2a2a2a;transform:scaleX(0.8000);-webkit-text-stroke:0.4px #2a2a2a">7.93</div>
<div class="t" style="left:626.19px;top:546.52px;font-size:16px;font-weight:normal;color:#2a2a2a;transform:scaleX(0.8000);-webkit-text-stroke:0.4px #2a2a2a">5.31</div>
<div class="t" style="left:697.19px;top:546.52px;font-size:16px;font-weight:normal;color:#2a2a2a;transform:scaleX(0.8000);-webkit-text-stroke:0.4px #2a2a2a">4.46</div>
<div class="t" style="left:196.58px;top:563.90px;font-size:16px;font-weight:normal;color:#2a2a2a;transform:scaleX(0.8000);-webkit-text-stroke:0.4px #2a2a2a">20.44</div>
<div class="t" style="left:270.69px;top:563.90px;font-size:16px;font-weight:normal;color:#2a2a2a;transform:scaleX(0.8000);-webkit-text-stroke:0.4px #2a2a2a">9.66</div>
<div class="t" style="left:342.04px;top:563.90px;font-size:16px;font-weight:normal;color:#2a2a2a;transform:scaleX(0.8000);-webkit-text-stroke:0.4px #2a2a2a">5.95</div>
<div class="t" style="left:413.39px;top:563.90px;font-size:16px;font-weight:normal;color:#2a2a2a;transform:scaleX(0.8000);-webkit-text-stroke:0.4px #2a2a2a">4.98</div>
<div class="t" style="left:480.23px;top:563.90px;font-size:16px;font-weight:normal;color:#2a2a2a;transform:scaleX(0.8000);-webkit-text-stroke:0.4px #2a2a2a">15.97</div>
<div class="t" style="left:554.54px;top:563.90px;font-size:16px;font-weight:normal;color:#2a2a2a;transform:scaleX(0.8000);-webkit-text-stroke:0.4px #2a2a2a">7.84</div>
<div class="t" style="left:626.19px;top:563.90px;font-size:16px;font-weight:normal;color:#2a2a2a;transform:scaleX(0.8000);-webkit-text-stroke:0.4px #2a2a2a">5.21</div>
<div class="t" style="left:697.19px;top:563.90px;font-size:16px;font-weight:normal;color:#2a2a2a;transform:scaleX(0.8000);-webkit-text-stroke:0.4px #2a2a2a">4.38</div>
<div class="t" style="left:196.58px;top:581.28px;font-size:16px;font-weight:normal;color:#2a2a2a;transform:scaleX(0.8000);-webkit-text-stroke:0.4px #2a2a2a">20.15</div>
<div class="t" style="left:270.69px;top:581.28px;font-size:16px;font-weight:normal;color:#2a2a2a;transform:scaleX(0.8000);-webkit-text-stroke:0.4px #2a2a2a">9.55</div>
<div class="t" style="left:342.04px;top:581.28px;font-size:16px;font-weight:normal;color:#2a2a2a;transform:scaleX(0.8000);-webkit-text-stroke:0.4px #2a2a2a">5.84</div>
<div class="t" style="left:413.39px;top:581.28px;font-size:16px;font-weight:normal;color:#2a2a2a;transform:scaleX(0.8000);-webkit-text-stroke:0.4px #2a2a2a">4.89</div>
<div class="t" style="left:480.23px;top:581.28px;font-size:16px;font-weight:normal;color:#2a2a2a;transform:scaleX(0.8000);-webkit-text-stroke:0.4px #2a2a2a">15.76</div>
<div class="t" style="left:554.54px;top:581.28px;font-size:16px;font-weight:normal;color:#2a2a2a;transform:scaleX(0.8000);-webkit-text-stroke:0.4px #2a2a2a">7.75</div>
<div class="t" style="left:626.19px;top:581.28px;font-size:16px;font-weight:normal;color:#2a2a2a;transform:scaleX(0.8000);-webkit-text-stroke:0.4px #2a2a2a">5.12</div>
<div class="t" style="left:697.19px;top:581.28px;font-size:16px;font-weight:normal;color:#2a2a2a;transform:scaleX(0.8000);-webkit-text-stroke:0.4px #2a2a2a">4.29</div>
<div class="t" style="left:196.58px;top:598.65px;font-size:16px;font-weight:normal;color:#2a2a2a;transform:scaleX(0.8000);-webkit-text-stroke:0.4px #2a2a2a">19.85</div>
<div class="t" style="left:270.69px;top:598.65px;font-size:16px;font-weight:normal;color:#2a2a2a;transform:scaleX(0.8000);-webkit-text-stroke:0.4px #2a2a2a">9.43</div>
<div class="t" style="left:342.04px;top:598.65px;font-size:16px;font-weight:normal;color:#2a2a2a;transform:scaleX(0.8000);-webkit-text-stroke:0.4px #2a2a2a">5.74</div>
<div class="t" style="left:413.39px;top:598.65px;font-size:16px;font-weight:normal;color:#2a2a2a;transform:scaleX(0.8000);-webkit-text-stroke:0.4px #2a2a2a">4.80</div>
<div class="t" style="left:480.23px;top:598.65px;font-size:16px;font-weight:normal;color:#2a2a2a;transform:scaleX(0.8000);-webkit-text-stroke:0.4px #2a2a2a">15.54</div>
<div class="t" style="left:554.54px;top:598.65px;font-size:16px;font-weight:normal;color:#2a2a2a;transform:scaleX(0.8000);-webkit-text-stroke:0.4px #2a2a2a">7.66</div>
<div class="t" style="left:626.19px;top:598.65px;font-size:16px;font-weight:normal;color:#2a2a2a;transform:scaleX(0.8000);-webkit-text-stroke:0.4px #2a2a2a">5.02</div>
<div class="t" style="left:697.19px;top:598.65px;font-size:16px;font-weight:normal;color:#2a2a2a;transform:scaleX(0.8000);-webkit-text-stroke:0.4px #2a2a2a">4.21</div>
<div class="t" style="left:196.58px;top:616.03px;font-size:16px;font-weight:normal;color:#2a2a2a;transform:scaleX(0.8000);-webkit-text-stroke:0.4px #2a2a2a">19.55</div>
<div class="t" style="left:270.69px;top:616.03px;font-size:16px;font-weight:normal;color:#2a2a2a;transform:scaleX(0.8000);-webkit-text-stroke:0.4px #2a2a2a">9.32</div>
<div class="t" style="left:342.04px;top:616.03px;font-size:16px;font-weight:normal;color:#2a2a2a;transform:scaleX(0.8000);-webkit-text-stroke:0.4px #2a2a2a">5.64</div>
<div class="t" style="left:413.39px;top:616.03px;font-size:16px;font-weight:normal;color:#2a2a2a;transform:scaleX(0.8000);-webkit-text-stroke:0.4px #2a2a2a">4.71</div>
<div class="t" style="left:480.23px;top:616.03px;font-size:16px;font-weight:normal;color:#2a2a2a;transform:scaleX(0.8000);-webkit-text-stroke:0.4px #2a2a2a">15.32</div>
<div class="t" style="left:554.54px;top:616.03px;font-size:16px;font-weight:normal;color:#2a2a2a;transform:scaleX(0.8000);-webkit-text-stroke:0.4px #2a2a2a">7.57</div>
<div class="t" style="left:626.19px;top:616.03px;font-size:16px;font-weight:normal;color:#2a2a2a;transform:scaleX(0.8000);-webkit-text-stroke:0.4px #2a2a2a">4.93</div>
<div class="t" style="left:697.19px;top:616.03px;font-size:16px;font-weight:normal;color:#2a2a2a;transform:scaleX(0.8000);-webkit-text-stroke:0.4px #2a2a2a">4.13</div>
<div class="t" style="left:196.58px;top:633.40px;font-size:16px;font-weight:normal;color:#2a2a2a;transform:scaleX(0.8000);-webkit-text-stroke:0.4px #2a2a2a">19.26</div>
<div class="t" style="left:270.69px;top:633.40px;font-size:16px;font-weight:normal;color:#2a2a2a;transform:scaleX(0.8000);-webkit-text-stroke:0.4px #2a2a2a">9.20</div>
<div class="t" style="left:342.04px;top:633.40px;font-size:16px;font-weight:normal;color:#2a2a2a;transform:scaleX(0.8000);-webkit-text-stroke:0.4px #2a2a2a">5.53</div>
<div class="t" style="left:413.39px;top:633.40px;font-size:16px;font-weight:normal;color:#2a2a2a;transform:scaleX(0.8000);-webkit-text-stroke:0.4px #2a2a2a">4.62</div>
<div class="t" style="left:480.71px;top:633.40px;font-size:16px;font-weight:normal;color:#2a2a2a;transform:scaleX(0.8000);-webkit-text-stroke:0.4px #2a2a2a">15.11</div>
<div class="t" style="left:554.54px;top:633.40px;font-size:16px;font-weight:normal;color:#2a2a2a;transform:scaleX(0.8000);-webkit-text-stroke:0.4px #2a2a2a">7.48</div>
<div class="t" style="left:626.19px;top:633.40px;font-size:16px;font-weight:normal;color:#2a2a2a;transform:scaleX(0.8000);-webkit-text-stroke:0.4px #2a2a2a">4.83</div>
<div class="t" style="left:697.19px;top:633.40px;font-size:16px;font-weight:normal;color:#2a2a2a;transform:scaleX(0.8000);-webkit-text-stroke:0.4px #2a2a2a">4.05</div>
<div class="t" style="left:196.58px;top:650.78px;font-size:16px;font-weight:normal;color:#2a2a2a;transform:scaleX(0.8000);-webkit-text-stroke:0.4px #2a2a2a">18.96</div>
<div class="t" style="left:270.69px;top:650.78px;font-size:16px;font-weight:normal;color:#2a2a2a;transform:scaleX(0.8000);-webkit-text-stroke:0.4px #2a2a2a">9.09</div>
<div class="t" style="left:342.04px;top:650.78px;font-size:16px;font-weight:normal;color:#2a2a2a;transform:scaleX(0.8000);-webkit-text-stroke:0.4px #2a2a2a">5.43</div>
<div class="t" style="left:413.39px;top:650.78px;font-size:16px;font-weight:normal;color:#2a2a2a;transform:scaleX(0.8000);-webkit-text-stroke:0.4px #2a2a2a">4.53</div>
<div class="t" style="left:480.23px;top:650.78px;font-size:16px;font-weight:normal;color:#2a2a2a;transform:scaleX(0.8000);-webkit-text-stroke:0.4px #2a2a2a">14.89</div>
<div class="t" style="left:554.54px;top:650.78px;font-size:16px;font-weight:normal;color:#2a2a2a;transform:scaleX(0.8000);-webkit-text-stroke:0.4px #2a2a2a">7.39</div>
<div class="t" style="left:626.19px;top:650.78px;font-size:16px;font-weight:normal;color:#2a2a2a;transform:scaleX(0.8000);-webkit-text-stroke:0.4px #2a2a2a">4.74</div>
<div class="t" style="left:697.19px;top:650.78px;font-size:16px;font-weight:normal;color:#2a2a2a;transform:scaleX(0.8000);-webkit-text-stroke:0.4px #2a2a2a">3.97</div>
<div class="t" style="left:196.58px;top:668.16px;font-size:16px;font-weight:normal;color:#2a2a2a;transform:scaleX(0.8000);-webkit-text-stroke:0.4px #2a2a2a">18.66</div>
<div class="t" style="left:270.69px;top:668.16px;font-size:16px;font-weight:normal;color:#2a2a2a;transform:scaleX(0.8000);-webkit-text-stroke:0.4px #2a2a2a">8.97</div>
<div class="t" style="left:342.04px;top:668.16px;font-size:16px;font-weight:normal;color:#2a2a2a;transform:scaleX(0.8000);-webkit-text-stroke:0.4px #2a2a2a">5.33</div>
<div class="t" style="left:413.39px;top:668.16px;font-size:16px;font-weight:normal;color:#2a2a2a;transform:scaleX(0.8000);-webkit-text-stroke:0.4px #2a2a2a">4.44</div>
<div class="t" style="left:480.23px;top:668.16px;font-size:16px;font-weight:normal;color:#2a2a2a;transform:scaleX(0.8000);-webkit-text-stroke:0.4px #2a2a2a">14.68</div>
<div class="t" style="left:554.54px;top:668.16px;font-size:16px;font-weight:normal;color:#2a2a2a;transform:scaleX(0.8000);-webkit-text-stroke:0.4px #2a2a2a">7.30</div>
<div class="t" style="left:626.19px;top:668.16px;font-size:16px;font-weight:normal;color:#2a2a2a;transform:scaleX(0.8000);-webkit-text-stroke:0.4px #2a2a2a">4.64</div>
<div class="t" style="left:697.19px;top:668.16px;font-size:16px;font-weight:normal;color:#2a2a2a;transform:scaleX(0.8000);-webkit-text-stroke:0.4px #2a2a2a">3.88</div>
<div class="t" style="left:196.58px;top:685.53px;font-size:16px;font-weight:normal;color:#2a2a2a;transform:scaleX(0.8000);-webkit-text-stroke:0.4px #2a2a2a">18.37</div>
<div class="t" style="left:270.69px;top:685.53px;font-size:16px;font-weight:normal;color:#2a2a2a;transform:scaleX(0.8000);-webkit-text-stroke:0.4px #2a2a2a">8.86</div>
<div class="t" style="left:342.04px;top:685.53px;font-size:16px;font-weight:normal;color:#2a2a2a;transform:scaleX(0.8000);-webkit-text-stroke:0.4px #2a2a2a">5.22</div>
<div class="t" style="left:413.39px;top:685.53px;font-size:16px;font-weight:normal;color:#2a2a2a;transform:scaleX(0.8000);-webkit-text-stroke:0.4px #2a2a2a">4.35</div>
<div class="t" style="left:480.23px;top:685.53px;font-size:16px;font-weight:normal;color:#2a2a2a;transform:scaleX(0.8000);-webkit-text-stroke:0.4px #2a2a2a">14.46</div>
<div class="t" style="left:554.54px;top:685.53px;font-size:16px;font-weight:normal;color:#2a2a2a;transform:scaleX(0.8000);-webkit-text-stroke:0.4px #2a2a2a">7.21</div>
<div class="t" style="left:626.19px;top:685.53px;font-size:16px;font-weight:normal;color:#2a2a2a;transform:scaleX(0.8000);-webkit-text-stroke:0.4px #2a2a2a">4.55</div>
<div class="t" style="left:697.19px;top:685.53px;font-size:16px;font-weight:normal;color:#2a2a2a;transform:scaleX(0.8000);-webkit-text-stroke:0.4px #2a2a2a">3.80</div>
<div class="t" style="left:196.58px;top:702.91px;font-size:16px;font-weight:normal;color:#2a2a2a;transform:scaleX(0.8000);-webkit-text-stroke:0.4px #2a2a2a">18.07</div>
<div class="t" style="left:270.69px;top:702.91px;font-size:16px;font-weight:normal;color:#2a2a2a;transform:scaleX(0.8000);-webkit-text-stroke:0.4px #2a2a2a">8.74</div>
<div class="t" style="left:342.04px;top:702.91px;font-size:16px;font-weight:normal;color:#2a2a2a;transform:scaleX(0.8000);-webkit-text-stroke:0.4px #2a2a2a">5.12</div>
<div class="t" style="left:413.39px;top:702.91px;font-size:16px;font-weight:normal;color:#2a2a2a;transform:scaleX(0.8000);-webkit-text-stroke:0.4px #2a2a2a">4.27</div>
<div class="t" style="left:480.23px;top:702.91px;font-size:16px;font-weight:normal;color:#2a2a2a;transform:scaleX(0.8000);-webkit-text-stroke:0.4px #2a2a2a">14.25</div>
<div class="t" style="left:555.02px;top:702.91px;font-size:16px;font-weight:normal;color:#2a2a2a;transform:scaleX(0.8000);-webkit-text-stroke:0.4px #2a2a2a">7.11</div>
<div class="t" style="left:626.19px;top:702.91px;font-size:16px;font-weight:normal;color:#2a2a2a;transform:scaleX(0.8000);-webkit-text-stroke:0.4px #2a2a2a">4.45</div>
<div class="t" style="left:697.19px;top:702.91px;font-size:16px;font-weight:normal;color:#2a2a2a;transform:scaleX(0.8000);-webkit-text-stroke:0.4px #2a2a2a">3.72</div>
<div class="t" style="left:196.58px;top:720.29px;font-size:16px;font-weight:normal;color:#2a2a2a;transform:scaleX(0.8000);-webkit-text-stroke:0.4px #2a2a2a">17.78</div>
<div class="t" style="left:270.69px;top:720.29px;font-size:16px;font-weight:normal;color:#2a2a2a;transform:scaleX(0.8000);-webkit-text-stroke:0.4px #2a2a2a">8.63</div>
<div class="t" style="left:342.04px;top:720.29px;font-size:16px;font-weight:normal;color:#2a2a2a;transform:scaleX(0.8000);-webkit-text-stroke:0.4px #2a2a2a">5.01</div>
<div class="t" style="left:413.39px;top:720.29px;font-size:16px;font-weight:normal;color:#2a2a2a;transform:scaleX(0.8000);-webkit-text-stroke:0.4px #2a2a2a">4.18</div>
<div class="t" style="left:480.23px;top:720.29px;font-size:16px;font-weight:normal;color:#2a2a2a;transform:scaleX(0.8000);-webkit-text-stroke:0.4px #2a2a2a">14.03</div>
<div class="t" style="left:554.54px;top:720.29px;font-size:16px;font-weight:normal;color:#2a2a2a;transform:scaleX(0.8000);-webkit-text-stroke:0.4px #2a2a2a">7.02</div>
<div class="t" style="left:626.19px;top:720.29px;font-size:16px;font-weight:normal;color:#2a2a2a;transform:scaleX(0.8000);-webkit-text-stroke:0.4px #2a2a2a">4.36</div>
<div class="t" style="left:697.19px;top:720.29px;font-size:16px;font-weight:normal;color:#2a2a2a;transform:scaleX(0.8000);-webkit-text-stroke:0.4px #2a2a2a">3.64</div>
<div class="t" style="left:196.58px;top:737.66px;font-size:16px;font-weight:normal;color:#2a2a2a;transform:scaleX(0.8000);-webkit-text-stroke:0.4px #2a2a2a">17.48</div>
<div class="t" style="left:270.69px;top:737.66px;font-size:16px;font-weight:normal;color:#2a2a2a;transform:scaleX(0.8000);-webkit-text-stroke:0.4px #2a2a2a">8.51</div>
<div class="t" style="left:342.04px;top:737.66px;font-size:16px;font-weight:normal;color:#2a2a2a;transform:scaleX(0.8000);-webkit-text-stroke:0.4px #2a2a2a">4.91</div>
<div class="t" style="left:413.39px;top:737.66px;font-size:16px;font-weight:normal;color:#2a2a2a;transform:scaleX(0.8000);-webkit-text-stroke:0.4px #2a2a2a">4.09</div>
<div class="t" style="left:480.23px;top:737.66px;font-size:16px;font-weight:normal;color:#2a2a2a;transform:scaleX(0.8000);-webkit-text-stroke:0.4px #2a2a2a">13.82</div>
<div class="t" style="left:554.54px;top:737.66px;font-size:16px;font-weight:normal;color:#2a2a2a;transform:scaleX(0.8000);-webkit-text-stroke:0.4px #2a2a2a">6.93</div>
<div class="t" style="left:626.19px;top:737.66px;font-size:16px;font-weight:normal;color:#2a2a2a;transform:scaleX(0.8000);-webkit-text-stroke:0.4px #2a2a2a">4.26</div>
<div class="t" style="left:697.19px;top:737.66px;font-size:16px;font-weight:normal;color:#2a2a2a;transform:scaleX(0.8000);-webkit-text-stroke:0.4px #2a2a2a">3.55</div>
<div class="t" style="left:196.58px;top:755.04px;font-size:16px;font-weight:normal;color:#2a2a2a;transform:scaleX(0.8000);-webkit-text-stroke:0.4px #2a2a2a">17.18</div>
<div class="t" style="left:270.69px;top:755.04px;font-size:16px;font-weight:normal;color:#2a2a2a;transform:scaleX(0.8000);-webkit-text-stroke:0.4px #2a2a2a">8.40</div>
<div class="t" style="left:342.04px;top:755.04px;font-size:16px;font-weight:normal;color:#2a2a2a;transform:scaleX(0.8000);-webkit-text-stroke:0.4px #2a2a2a">4.81</div>
<div class="t" style="left:413.39px;top:755.04px;font-size:16px;font-weight:normal;color:#2a2a2a;transform:scaleX(0.8000);-webkit-text-stroke:0.4px #2a2a2a">4.00</div>
<div class="t" style="left:480.23px;top:755.04px;font-size:16px;font-weight:normal;color:#2a2a2a;transform:scaleX(0.8000);-webkit-text-stroke:0.4px #2a2a2a">13.60</div>
<div class="t" style="left:554.54px;top:755.04px;font-size:16px;font-weight:normal;color:#2a2a2a;transform:scaleX(0.8000);-webkit-text-stroke:0.4px #2a2a2a">6.84</div>
<div class="t" style="left:626.19px;top:755.04px;font-size:16px;font-weight:normal;color:#2a2a2a;transform:scaleX(0.8000);-webkit-text-stroke:0.4px #2a2a2a">4.17</div>
<div class="t" style="left:697.19px;top:755.04px;font-size:16px;font-weight:normal;color:#2a2a2a;transform:scaleX(0.8000);-webkit-text-stroke:0.4px #2a2a2a">3.47</div>
<div class="t" style="left:196.58px;top:772.41px;font-size:16px;font-weight:normal;color:#2a2a2a;transform:scaleX(0.8000);-webkit-text-stroke:0.4px #2a2a2a">16.89</div>
<div class="t" style="left:270.69px;top:772.41px;font-size:16px;font-weight:normal;color:#2a2a2a;transform:scaleX(0.8000);-webkit-text-stroke:0.4px #2a2a2a">8.28</div>
<div class="t" style="left:342.04px;top:772.41px;font-size:16px;font-weight:normal;color:#2a2a2a;transform:scaleX(0.8000);-webkit-text-stroke:0.4px #2a2a2a">4.70</div>
<div class="t" style="left:413.39px;top:772.41px;font-size:16px;font-weight:normal;color:#2a2a2a;transform:scaleX(0.8000);-webkit-text-stroke:0.4px #2a2a2a">3.91</div>
<div class="t" style="left:480.23px;top:772.41px;font-size:16px;font-weight:normal;color:#2a2a2a;transform:scaleX(0.8000);-webkit-text-stroke:0.4px #2a2a2a">13.39</div>
<div class="t" style="left:554.54px;top:772.41px;font-size:16px;font-weight:normal;color:#2a2a2a;transform:scaleX(0.8000);-webkit-text-stroke:0.4px #2a2a2a">6.75</div>
<div class="t" style="left:626.19px;top:772.41px;font-size:16px;font-weight:normal;color:#2a2a2a;transform:scaleX(0.8000);-webkit-text-stroke:0.4px #2a2a2a">4.07</div>
<div class="t" style="left:697.19px;top:772.41px;font-size:16px;font-weight:normal;color:#2a2a2a;transform:scaleX(0.8000);-webkit-text-stroke:0.4px #2a2a2a">3.39</div>
<div class="t" style="left:196.58px;top:789.79px;font-size:16px;font-weight:normal;color:#2a2a2a;transform:scaleX(0.8000);-webkit-text-stroke:0.4px #2a2a2a">16.59</div>
<div class="t" style="left:270.69px;top:789.79px;font-size:16px;font-weight:normal;color:#2a2a2a;transform:scaleX(0.8000);-webkit-text-stroke:0.4px #2a2a2a">8.17</div>
<div class="t" style="left:342.04px;top:789.79px;font-size:16px;font-weight:normal;color:#2a2a2a;transform:scaleX(0.8000);-webkit-text-stroke:0.4px #2a2a2a">4.60</div>
<div class="t" style="left:413.39px;top:789.79px;font-size:16px;font-weight:normal;color:#2a2a2a;transform:scaleX(0.8000);-webkit-text-stroke:0.4px #2a2a2a">3.82</div>
<div class="t" style="left:480.23px;top:789.79px;font-size:16px;font-weight:normal;color:#2a2a2a;transform:scaleX(0.8000);-webkit-text-stroke:0.4px #2a2a2a">13.17</div>
<div class="t" style="left:554.54px;top:789.79px;font-size:16px;font-weight:normal;color:#2a2a2a;transform:scaleX(0.8000);-webkit-text-stroke:0.4px #2a2a2a">6.66</div>
<div class="t" style="left:626.19px;top:789.79px;font-size:16px;font-weight:normal;color:#2a2a2a;transform:scaleX(0.8000);-webkit-text-stroke:0.4px #2a2a2a">3.98</div>
<div class="t" style="left:697.19px;top:789.79px;font-size:16px;font-weight:normal;color:#2a2a2a;transform:scaleX(0.8000);-webkit-text-stroke:0.4px #2a2a2a">3.31</div>
<div class="t" style="left:196.58px;top:807.17px;font-size:16px;font-weight:normal;color:#2a2a2a;transform:scaleX(0.8000);-webkit-text-stroke:0.4px #2a2a2a">16.29</div>
<div class="t" style="left:270.69px;top:807.17px;font-size:16px;font-weight:normal;color:#2a2a2a;transform:scaleX(0.8000);-webkit-text-stroke:0.4px #2a2a2a">8.05</div>
<div class="t" style="left:342.04px;top:807.17px;font-size:16px;font-weight:normal;color:#2a2a2a;transform:scaleX(0.8000);-webkit-text-stroke:0.4px #2a2a2a">4.50</div>
<div class="t" style="left:413.39px;top:807.17px;font-size:16px;font-weight:normal;color:#2a2a2a;transform:scaleX(0.8000);-webkit-text-stroke:0.4px #2a2a2a">3.73</div>
<div class="t" style="left:480.23px;top:807.17px;font-size:16px;font-weight:normal;color:#2a2a2a;transform:scaleX(0.8000);-webkit-text-stroke:0.4px #2a2a2a">12.95</div>
<div class="t" style="left:554.54px;top:807.17px;font-size:16px;font-weight:normal;color:#2a2a2a;transform:scaleX(0.8000);-webkit-text-stroke:0.4px #2a2a2a">6.57</div>
<div class="t" style="left:626.19px;top:807.17px;font-size:16px;font-weight:normal;color:#2a2a2a;transform:scaleX(0.8000);-webkit-text-stroke:0.4px #2a2a2a">3.88</div>
<div class="t" style="left:697.19px;top:807.17px;font-size:16px;font-weight:normal;color:#2a2a2a;transform:scaleX(0.8000);-webkit-text-stroke:0.4px #2a2a2a">3.23</div>
<div class="t" style="left:196.58px;top:824.54px;font-size:16px;font-weight:normal;color:#2a2a2a;transform:scaleX(0.8000);-webkit-text-stroke:0.4px #2a2a2a">16.00</div>
<div class="t" style="left:270.69px;top:824.54px;font-size:16px;font-weight:normal;color:#2a2a2a;transform:scaleX(0.8000);-webkit-text-stroke:0.4px #2a2a2a">7.94</div>
<div class="t" style="left:342.04px;top:824.54px;font-size:16px;font-weight:normal;color:#2a2a2a;transform:scaleX(0.8000);-webkit-text-stroke:0.4px #2a2a2a">4.39</div>
<div class="t" style="left:413.39px;top:824.54px;font-size:16px;font-weight:normal;color:#2a2a2a;transform:scaleX(0.8000);-webkit-text-stroke:0.4px #2a2a2a">3.64</div>
<div class="t" style="left:480.23px;top:824.54px;font-size:16px;font-weight:normal;color:#2a2a2a;transform:scaleX(0.8000);-webkit-text-stroke:0.4px #2a2a2a">12.74</div>
<div class="t" style="left:554.54px;top:824.54px;font-size:16px;font-weight:normal;color:#2a2a2a;transform:scaleX(0.8000);-webkit-text-stroke:0.4px #2a2a2a">6.48</div>
<div class="t" style="left:626.19px;top:824.54px;font-size:16px;font-weight:normal;color:#2a2a2a;transform:scaleX(0.8000);-webkit-text-stroke:0.4px #2a2a2a">3.79</div>
<div class="t" style="left:697.19px;top:824.54px;font-size:16px;font-weight:normal;color:#2a2a2a;transform:scaleX(0.8000);-webkit-text-stroke:0.4px #2a2a2a">3.14</div>
<div class="t" style="left:196.58px;top:841.92px;font-size:16px;font-weight:normal;color:#2a2a2a;transform:scaleX(0.8000);-webkit-text-stroke:0.4px #2a2a2a">15.70</div>
<div class="t" style="left:270.69px;top:841.92px;font-size:16px;font-weight:normal;color:#2a2a2a;transform:scaleX(0.8000);-webkit-text-stroke:0.4px #2a2a2a">7.82</div>
<div class="t" style="left:342.04px;top:841.92px;font-size:16px;font-weight:normal;color:#2a2a2a;transform:scaleX(0.8000);-webkit-text-stroke:0.4px #2a2a2a">4.29</div>
<div class="t" style="left:413.39px;top:841.92px;font-size:16px;font-weight:normal;color:#2a2a2a;transform:scaleX(0.8000);-webkit-text-stroke:0.4px #2a2a2a">3.55</div>
<div class="t" style="left:480.23px;top:841.92px;font-size:16px;font-weight:normal;color:#2a2a2a;transform:scaleX(0.8000);-webkit-text-stroke:0.4px #2a2a2a">12.52</div>
<div class="t" style="left:554.54px;top:841.92px;font-size:16px;font-weight:normal;color:#2a2a2a;transform:scaleX(0.8000);-webkit-text-stroke:0.4px #2a2a2a">6.39</div>
<div class="t" style="left:626.19px;top:841.92px;font-size:16px;font-weight:normal;color:#2a2a2a;transform:scaleX(0.8000);-webkit-text-stroke:0.4px #2a2a2a">3.69</div>
<div class="t" style="left:697.19px;top:841.92px;font-size:16px;font-weight:normal;color:#2a2a2a;transform:scaleX(0.8000);-webkit-text-stroke:0.4px #2a2a2a">3.06</div>
<div class="t" style="left:196.58px;top:859.29px;font-size:16px;font-weight:normal;color:#2a2a2a;transform:scaleX(0.8000);-webkit-text-stroke:0.4px #2a2a2a">15.41</div>
<div class="t" style="left:270.69px;top:859.29px;font-size:16px;font-weight:normal;color:#2a2a2a;transform:scaleX(0.8000);-webkit-text-stroke:0.4px #2a2a2a">7.71</div>
<div class="t" style="left:342.04px;top:859.29px;font-size:16px;font-weight:normal;color:#2a2a2a;transform:scaleX(0.8000);-webkit-text-stroke:0.4px #2a2a2a">4.19</div>
<div class="t" style="left:413.39px;top:859.29px;font-size:16px;font-weight:normal;color:#2a2a2a;transform:scaleX(0.8000);-webkit-text-stroke:0.4px #2a2a2a">3.47</div>
<div class="t" style="left:480.23px;top:859.29px;font-size:16px;font-weight:normal;color:#2a2a2a;transform:scaleX(0.8000);-webkit-text-stroke:0.4px #2a2a2a">12.31</div>
<div class="t" style="left:554.54px;top:859.29px;font-size:16px;font-weight:normal;color:#2a2a2a;transform:scaleX(0.8000);-webkit-text-stroke:0.4px #2a2a2a">6.30</div>
<div class="t" style="left:626.19px;top:859.29px;font-size:16px;font-weight:normal;color:#2a2a2a;transform:scaleX(0.8000);-webkit-text-stroke:0.4px #2a2a2a">3.59</div>
<div class="t" style="left:697.19px;top:859.29px;font-size:16px;font-weight:normal;color:#2a2a2a;transform:scaleX(0.8000);-webkit-text-stroke:0.4px #2a2a2a">2.98</div>
<div class="t" style="left:197.06px;top:876.67px;font-size:16px;font-weight:normal;color:#2a2a2a;transform:scaleX(0.8000);-webkit-text-stroke:0.4px #2a2a2a">15.11</div>
<div class="t" style="left:270.69px;top:876.67px;font-size:16px;font-weight:normal;color:#2a2a2a;transform:scaleX(0.8000);-webkit-text-stroke:0.4px #2a2a2a">7.59</div>
<div class="t" style="left:342.04px;top:876.67px;font-size:16px;font-weight:normal;color:#2a2a2a;transform:scaleX(0.8000);-webkit-text-stroke:0.4px #2a2a2a">4.08</div>
<div class="t" style="left:413.39px;top:876.67px;font-size:16px;font-weight:normal;color:#2a2a2a;transform:scaleX(0.8000);-webkit-text-stroke:0.4px #2a2a2a">3.38</div>
<div class="t" style="left:480.23px;top:876.67px;font-size:16px;font-weight:normal;color:#2a2a2a;transform:scaleX(0.8000);-webkit-text-stroke:0.4px #2a2a2a">12.09</div>
<div class="t" style="left:554.54px;top:876.67px;font-size:16px;font-weight:normal;color:#2a2a2a;transform:scaleX(0.8000);-webkit-text-stroke:0.4px #2a2a2a">6.21</div>
<div class="t" style="left:626.19px;top:876.67px;font-size:16px;font-weight:normal;color:#2a2a2a;transform:scaleX(0.8000);-webkit-text-stroke:0.4px #2a2a2a">3.50</div>
<div class="t" style="left:697.19px;top:876.67px;font-size:16px;font-weight:normal;color:#2a2a2a;transform:scaleX(0.8000);-webkit-text-stroke:0.4px #2a2a2a">2.90</div>
<div class="t" style="left:196.58px;top:894.05px;font-size:16px;font-weight:normal;color:#2a2a2a;transform:scaleX(0.8000);-webkit-text-stroke:0.4px #2a2a2a">14.81</div>
<div class="t" style="left:270.69px;top:894.05px;font-size:16px;font-weight:normal;color:#2a2a2a;transform:scaleX(0.8000);-webkit-text-stroke:0.4px #2a2a2a">7.48</div>
<div class="t" style="left:342.04px;top:894.05px;font-size:16px;font-weight:normal;color:#2a2a2a;transform:scaleX(0.8000);-webkit-text-stroke:0.4px #2a2a2a">3.98</div>
<div class="t" style="left:413.39px;top:894.05px;font-size:16px;font-weight:normal;color:#2a2a2a;transform:scaleX(0.8000);-webkit-text-stroke:0.4px #2a2a2a">3.29</div>
<div class="t" style="left:480.71px;top:894.05px;font-size:16px;font-weight:normal;color:#2a2a2a;transform:scaleX(0.8000);-webkit-text-stroke:0.4px #2a2a2a">11.88</div>
<div class="t" style="left:554.54px;top:894.05px;font-size:16px;font-weight:normal;color:#2a2a2a;transform:scaleX(0.8000);-webkit-text-stroke:0.4px #2a2a2a">6.12</div>
<div class="t" style="left:626.19px;top:894.05px;font-size:16px;font-weight:normal;color:#2a2a2a;transform:scaleX(0.8000);-webkit-text-stroke:0.4px #2a2a2a">3.40</div>
<div class="t" style="left:697.19px;top:894.05px;font-size:16px;font-weight:normal;color:#2a2a2a;transform:scaleX(0.8000);-webkit-text-stroke:0.4px #2a2a2a">2.82</div>
<div class="t" style="left:196.58px;top:911.42px;font-size:16px;font-weight:normal;color:#2a2a2a;transform:scaleX(0.8000);-webkit-text-stroke:0.4px #2a2a2a">14.52</div>
<div class="t" style="left:270.69px;top:911.42px;font-size:16px;font-weight:normal;color:#2a2a2a;transform:scaleX(0.8000);-webkit-text-stroke:0.4px #2a2a2a">7.36</div>
<div class="t" style="left:342.04px;top:911.42px;font-size:16px;font-weight:normal;color:#2a2a2a;transform:scaleX(0.8000);-webkit-text-stroke:0.4px #2a2a2a">3.88</div>
<div class="t" style="left:413.39px;top:911.42px;font-size:16px;font-weight:normal;color:#2a2a2a;transform:scaleX(0.8000);-webkit-text-stroke:0.4px #2a2a2a">3.20</div>
<div class="t" style="left:480.71px;top:911.42px;font-size:16px;font-weight:normal;color:#2a2a2a;transform:scaleX(0.8000);-webkit-text-stroke:0.4px #2a2a2a">11.66</div>
<div class="t" style="left:554.54px;top:911.42px;font-size:16px;font-weight:normal;color:#2a2a2a;transform:scaleX(0.8000);-webkit-text-stroke:0.4px #2a2a2a">6.03</div>
<div class="t" style="left:626.19px;top:911.42px;font-size:16px;font-weight:normal;color:#2a2a2a;transform:scaleX(0.8000);-webkit-text-stroke:0.4px #2a2a2a">3.31</div>
<div class="t" style="left:697.19px;top:911.42px;font-size:16px;font-weight:normal;color:#2a2a2a;transform:scaleX(0.8000);-webkit-text-stroke:0.4px #2a2a2a">2.73</div>
<div class="t" style="left:196.58px;top:928.80px;font-size:16px;font-weight:normal;color:#2a2a2a;transform:scaleX(0.8000);-webkit-text-stroke:0.4px #2a2a2a">14.22</div>
<div class="t" style="left:270.69px;top:928.80px;font-size:16px;font-weight:normal;color:#2a2a2a;transform:scaleX(0.8000);-webkit-text-stroke:0.4px #2a2a2a">7.25</div>
<div class="t" style="left:342.04px;top:928.80px;font-size:16px;font-weight:normal;color:#2a2a2a;transform:scaleX(0.8000);-webkit-text-stroke:0.4px #2a2a2a">3.77</div>
<div class="t" style="left:413.87px;top:928.80px;font-size:16px;font-weight:normal;color:#2a2a2a;transform:scaleX(0.8000);-webkit-text-stroke:0.4px #2a2a2a">3.11</div>
<div class="t" style="left:480.71px;top:928.80px;font-size:16px;font-weight:normal;color:#2a2a2a;transform:scaleX(0.8000);-webkit-text-stroke:0.4px #2a2a2a">11.45</div>
<div class="t" style="left:554.54px;top:928.80px;font-size:16px;font-weight:normal;color:#2a2a2a;transform:scaleX(0.8000);-webkit-text-stroke:0.4px #2a2a2a">5.94</div>
<div class="t" style="left:626.19px;top:928.80px;font-size:16px;font-weight:normal;color:#2a2a2a;transform:scaleX(0.8000);-webkit-text-stroke:0.4px #2a2a2a">3.21</div>
<div class="t" style="left:697.19px;top:928.80px;font-size:16px;font-weight:normal;color:#2a2a2a;transform:scaleX(0.8000);-webkit-text-stroke:0.4px #2a2a2a">2.65</div>
<div class="t" style="left:196.58px;top:946.17px;font-size:16px;font-weight:normal;color:#2a2a2a;transform:scaleX(0.8000);-webkit-text-stroke:0.4px #2a2a2a">13.93</div>
<div class="t" style="left:270.69px;top:946.17px;font-size:16px;font-weight:normal;color:#2a2a2a;transform:scaleX(0.8000);-webkit-text-stroke:0.4px #2a2a2a">7.13</div>
<div class="t" style="left:342.04px;top:946.17px;font-size:16px;font-weight:normal;color:#2a2a2a;transform:scaleX(0.8000);-webkit-text-stroke:0.4px #2a2a2a">3.67</div>
<div class="t" style="left:413.39px;top:946.17px;font-size:16px;font-weight:normal;color:#2a2a2a;transform:scaleX(0.8000);-webkit-text-stroke:0.4px #2a2a2a">3.02</div>
<div class="t" style="left:480.71px;top:946.17px;font-size:16px;font-weight:normal;color:#2a2a2a;transform:scaleX(0.8000);-webkit-text-stroke:0.4px #2a2a2a">11.23</div>
<div class="t" style="left:554.54px;top:946.17px;font-size:16px;font-weight:normal;color:#2a2a2a;transform:scaleX(0.8000);-webkit-text-stroke:0.4px #2a2a2a">5.85</div>
<div class="t" style="left:626.19px;top:946.17px;font-size:16px;font-weight:normal;color:#2a2a2a;transform:scaleX(0.8000);-webkit-text-stroke:0.4px #2a2a2a">3.12</div>
<div class="t" style="left:697.19px;top:946.17px;font-size:16px;font-weight:normal;color:#2a2a2a;transform:scaleX(0.8000);-webkit-text-stroke:0.4px #2a2a2a">2.57</div>
<div class="t" style="left:196.58px;top:963.55px;font-size:16px;font-weight:normal;color:#2a2a2a;transform:scaleX(0.8000);-webkit-text-stroke:0.4px #2a2a2a">13.63</div>
<div class="t" style="left:270.69px;top:963.55px;font-size:16px;font-weight:normal;color:#2a2a2a;transform:scaleX(0.8000);-webkit-text-stroke:0.4px #2a2a2a">7.02</div>
<div class="t" style="left:342.04px;top:963.55px;font-size:16px;font-weight:normal;color:#2a2a2a;transform:scaleX(0.8000);-webkit-text-stroke:0.4px #2a2a2a">3.57</div>
<div class="t" style="left:413.39px;top:963.55px;font-size:16px;font-weight:normal;color:#2a2a2a;transform:scaleX(0.8000);-webkit-text-stroke:0.4px #2a2a2a">2.93</div>
<div class="t" style="left:480.71px;top:963.55px;font-size:16px;font-weight:normal;color:#2a2a2a;transform:scaleX(0.8000);-webkit-text-stroke:0.4px #2a2a2a">11.01</div>
<div class="t" style="left:554.54px;top:963.55px;font-size:16px;font-weight:normal;color:#2a2a2a;transform:scaleX(0.8000);-webkit-text-stroke:0.4px #2a2a2a">5.76</div>
<div class="t" style="left:626.19px;top:963.55px;font-size:16px;font-weight:normal;color:#2a2a2a;transform:scaleX(0.8000);-webkit-text-stroke:0.4px #2a2a2a">3.02</div>
<div class="t" style="left:697.19px;top:963.55px;font-size:16px;font-weight:normal;color:#2a2a2a;transform:scaleX(0.8000);-webkit-text-stroke:0.4px #2a2a2a">2.49</div>
<div class="t" style="left:196.58px;top:980.93px;font-size:16px;font-weight:normal;color:#2a2a2a;transform:scaleX(0.8000);-webkit-text-stroke:0.4px #2a2a2a">13.33</div>
<div class="t" style="left:270.69px;top:980.93px;font-size:16px;font-weight:normal;color:#2a2a2a;transform:scaleX(0.8000);-webkit-text-stroke:0.4px #2a2a2a">6.90</div>
<div class="t" style="left:342.04px;top:980.93px;font-size:16px;font-weight:normal;color:#2a2a2a;transform:scaleX(0.8000);-webkit-text-stroke:0.4px #2a2a2a">3.46</div>
<div class="t" style="left:413.39px;top:980.93px;font-size:16px;font-weight:normal;color:#2a2a2a;transform:scaleX(0.8000);-webkit-text-stroke:0.4px #2a2a2a">2.84</div>
<div class="t" style="left:480.23px;top:980.93px;font-size:16px;font-weight:normal;color:#2a2a2a;transform:scaleX(0.8000);-webkit-text-stroke:0.4px #2a2a2a">10.80</div>
<div class="t" style="left:554.54px;top:980.93px;font-size:16px;font-weight:normal;color:#2a2a2a;transform:scaleX(0.8000);-webkit-text-stroke:0.4px #2a2a2a">5.66</div>
<div class="t" style="left:626.19px;top:980.93px;font-size:16px;font-weight:normal;color:#2a2a2a;transform:scaleX(0.8000);-webkit-text-stroke:0.4px #2a2a2a">2.93</div>
<div class="t" style="left:697.19px;top:980.93px;font-size:16px;font-weight:normal;color:#2a2a2a;transform:scaleX(0.8000);-webkit-text-stroke:0.4px #2a2a2a">2.40</div>
<div class="t" style="left:196.58px;top:998.30px;font-size:16px;font-weight:normal;color:#2a2a2a;transform:scaleX(0.8000);-webkit-text-stroke:0.4px #2a2a2a">13.04</div>
<div class="t" style="left:270.69px;top:998.30px;font-size:16px;font-weight:normal;color:#2a2a2a;transform:scaleX(0.8000);-webkit-text-stroke:0.4px #2a2a2a">6.79</div>
<div class="t" style="left:342.04px;top:998.30px;font-size:16px;font-weight:normal;color:#2a2a2a;transform:scaleX(0.8000);-webkit-text-stroke:0.4px #2a2a2a">3.36</div>
<div class="t" style="left:413.39px;top:998.30px;font-size:16px;font-weight:normal;color:#2a2a2a;transform:scaleX(0.8000);-webkit-text-stroke:0.4px #2a2a2a">2.75</div>
<div class="t" style="left:480.23px;top:998.30px;font-size:16px;font-weight:normal;color:#2a2a2a;transform:scaleX(0.8000);-webkit-text-stroke:0.4px #2a2a2a">10.58</div>
<div class="t" style="left:554.54px;top:998.30px;font-size:16px;font-weight:normal;color:#2a2a2a;transform:scaleX(0.8000);-webkit-text-stroke:0.4px #2a2a2a">5.57</div>
<div class="t" style="left:626.19px;top:998.30px;font-size:16px;font-weight:normal;color:#2a2a2a;transform:scaleX(0.8000);-webkit-text-stroke:0.4px #2a2a2a">2.83</div>
<div class="t" style="left:697.19px;top:998.30px;font-size:16px;font-weight:normal;color:#2a2a2a;transform:scaleX(0.8000);-webkit-text-stroke:0.4px #2a2a2a">2.32</div>
<div class="t" style="left:196.58px;top:1015.68px;font-size:16px;font-weight:normal;color:#2a2a2a;transform:scaleX(0.8000);-webkit-text-stroke:0.4px #2a2a2a">12.74</div>
<div class="t" style="left:270.69px;top:1015.68px;font-size:16px;font-weight:normal;color:#2a2a2a;transform:scaleX(0.8000);-webkit-text-stroke:0.4px #2a2a2a">6.67</div>
<div class="t" style="left:342.04px;top:1015.68px;font-size:16px;font-weight:normal;color:#2a2a2a;transform:scaleX(0.8000);-webkit-text-stroke:0.4px #2a2a2a">3.26</div>
<div class="t" style="left:413.39px;top:1015.68px;font-size:16px;font-weight:normal;color:#2a2a2a;transform:scaleX(0.8000);-webkit-text-stroke:0.4px #2a2a2a">2.66</div>
<div class="t" style="left:480.23px;top:1015.68px;font-size:16px;font-weight:normal;color:#2a2a2a;transform:scaleX(0.8000);-webkit-text-stroke:0.4px #2a2a2a">10.37</div>
<div class="t" style="left:554.54px;top:1015.68px;font-size:16px;font-weight:normal;color:#2a2a2a;transform:scaleX(0.8000);-webkit-text-stroke:0.4px #2a2a2a">5.48</div>
<div class="t" style="left:626.19px;top:1015.68px;font-size:16px;font-weight:normal;color:#2a2a2a;transform:scaleX(0.8000);-webkit-text-stroke:0.4px #2a2a2a">2.74</div>
<div class="t" style="left:697.19px;top:1015.68px;font-size:16px;font-weight:normal;color:#2a2a2a;transform:scaleX(0.8000);-webkit-text-stroke:0.4px #2a2a2a">2.24</div>
<div class="t" style="left:196.58px;top:1033.05px;font-size:16px;font-weight:normal;color:#2a2a2a;transform:scaleX(0.8000);-webkit-text-stroke:0.4px #2a2a2a">12.44</div>
<div class="t" style="left:270.69px;top:1033.05px;font-size:16px;font-weight:normal;color:#2a2a2a;transform:scaleX(0.8000);-webkit-text-stroke:0.4px #2a2a2a">6.56</div>
<div class="t" style="left:342.04px;top:1033.05px;font-size:16px;font-weight:normal;color:#2a2a2a;transform:scaleX(0.8000);-webkit-text-stroke:0.4px #2a2a2a">3.15</div>
<div class="t" style="left:413.39px;top:1033.05px;font-size:16px;font-weight:normal;color:#2a2a2a;transform:scaleX(0.8000);-webkit-text-stroke:0.4px #2a2a2a">2.58</div>
<div class="t" style="left:480.23px;top:1033.05px;font-size:16px;font-weight:normal;color:#2a2a2a;transform:scaleX(0.8000);-webkit-text-stroke:0.4px #2a2a2a">10.15</div>
<div class="t" style="left:554.54px;top:1033.05px;font-size:16px;font-weight:normal;color:#2a2a2a;transform:scaleX(0.8000);-webkit-text-stroke:0.4px #2a2a2a">5.39</div>
<div class="t" style="left:626.19px;top:1033.05px;font-size:16px;font-weight:normal;color:#2a2a2a;transform:scaleX(0.8000);-webkit-text-stroke:0.4px #2a2a2a">2.64</div>
<div class="t" style="left:697.19px;top:1033.05px;font-size:16px;font-weight:normal;color:#2a2a2a;transform:scaleX(0.8000);-webkit-text-stroke:0.4px #2a2a2a">2.16</div>
<div class="t" style="left:196.58px;top:1050.43px;font-size:16px;font-weight:normal;color:#2a2a2a;transform:scaleX(0.8000);-webkit-text-stroke:0.4px #2a2a2a">12.15</div>
<div class="t" style="left:270.69px;top:1050.43px;font-size:16px;font-weight:normal;color:#2a2a2a;transform:scaleX(0.8000);-webkit-text-stroke:0.4px #2a2a2a">6.44</div>
<div class="t" style="left:342.04px;top:1050.43px;font-size:16px;font-weight:normal;color:#2a2a2a;transform:scaleX(0.8000);-webkit-text-stroke:0.4px #2a2a2a">3.05</div>
<div class="t" style="left:413.39px;top:1050.43px;font-size:16px;font-weight:normal;color:#2a2a2a;transform:scaleX(0.8000);-webkit-text-stroke:0.4px #2a2a2a">2.49</div>
<div class="t" style="left:483.79px;top:1050.43px;font-size:16px;font-weight:normal;color:#2a2a2a;transform:scaleX(0.8000);-webkit-text-stroke:0.4px #2a2a2a">9.94</div>
<div class="t" style="left:554.54px;top:1050.43px;font-size:16px;font-weight:normal;color:#2a2a2a;transform:scaleX(0.8000);-webkit-text-stroke:0.4px #2a2a2a">5.30</div>
<div class="t" style="left:626.19px;top:1050.43px;font-size:16px;font-weight:normal;color:#2a2a2a;transform:scaleX(0.8000);-webkit-text-stroke:0.4px #2a2a2a">2.55</div>
<div class="t" style="left:697.19px;top:1050.43px;font-size:16px;font-weight:normal;color:#2a2a2a;transform:scaleX(0.8000);-webkit-text-stroke:0.4px #2a2a2a">2.08</div>
<div class="t" style="left:197.06px;top:1067.81px;font-size:16px;font-weight:normal;color:#2a2a2a;transform:scaleX(0.8000);-webkit-text-stroke:0.4px #2a2a2a">11.85</div>
<div class="t" style="left:270.69px;top:1067.81px;font-size:16px;font-weight:normal;color:#2a2a2a;transform:scaleX(0.8000);-webkit-text-stroke:0.4px #2a2a2a">6.33</div>
<div class="t" style="left:342.04px;top:1067.81px;font-size:16px;font-weight:normal;color:#2a2a2a;transform:scaleX(0.8000);-webkit-text-stroke:0.4px #2a2a2a">2.95</div>
<div class="t" style="left:413.39px;top:1067.81px;font-size:16px;font-weight:normal;color:#2a2a2a;transform:scaleX(0.8000);-webkit-text-stroke:0.4px #2a2a2a">2.40</div>
<div class="t" style="left:483.79px;top:1067.81px;font-size:16px;font-weight:normal;color:#2a2a2a;transform:scaleX(0.8000);-webkit-text-stroke:0.4px #2a2a2a">9.72</div>
<div class="t" style="left:554.54px;top:1067.81px;font-size:16px;font-weight:normal;color:#2a2a2a;transform:scaleX(0.8000);-webkit-text-stroke:0.4px #2a2a2a">5.21</div>
<div class="t" style="left:626.19px;top:1067.81px;font-size:16px;font-weight:normal;color:#2a2a2a;transform:scaleX(0.8000);-webkit-text-stroke:0.4px #2a2a2a">2.45</div>
<div class="t" style="left:697.19px;top:1067.81px;font-size:16px;font-weight:normal;color:#2a2a2a;transform:scaleX(0.8000);-webkit-text-stroke:0.4px #2a2a2a">1.99</div>
<div class="t" style="left:197.06px;top:1085.18px;font-size:16px;font-weight:normal;color:#2a2a2a;transform:scaleX(0.8000);-webkit-text-stroke:0.4px #2a2a2a">11.56</div>
<div class="t" style="left:270.69px;top:1085.18px;font-size:16px;font-weight:normal;color:#2a2a2a;transform:scaleX(0.8000);-webkit-text-stroke:0.4px #2a2a2a">6.21</div>
<div class="t" style="left:342.04px;top:1085.18px;font-size:16px;font-weight:normal;color:#2a2a2a;transform:scaleX(0.8000);-webkit-text-stroke:0.4px #2a2a2a">2.84</div>
<div class="t" style="left:413.39px;top:1085.18px;font-size:16px;font-weight:normal;color:#2a2a2a;transform:scaleX(0.8000);-webkit-text-stroke:0.4px #2a2a2a">2.31</div>
<div class="t" style="left:483.79px;top:1085.18px;font-size:16px;font-weight:normal;color:#2a2a2a;transform:scaleX(0.8000);-webkit-text-stroke:0.4px #2a2a2a">9.51</div>
<div class="t" style="left:554.54px;top:1085.18px;font-size:16px;font-weight:normal;color:#2a2a2a;transform:scaleX(0.8000);-webkit-text-stroke:0.4px #2a2a2a">5.12</div>
<div class="t" style="left:626.19px;top:1085.18px;font-size:16px;font-weight:normal;color:#2a2a2a;transform:scaleX(0.8000);-webkit-text-stroke:0.4px #2a2a2a">2.36</div>
<div class="t" style="left:697.19px;top:1085.18px;font-size:16px;font-weight:normal;color:#2a2a2a;transform:scaleX(0.8000);-webkit-text-stroke:0.4px #2a2a2a">1.91</div>
<div class="t" style="left:197.06px;top:1102.56px;font-size:16px;font-weight:normal;color:#2a2a2a;transform:scaleX(0.8000);-webkit-text-stroke:0.4px #2a2a2a">11.26</div>
<div class="t" style="left:270.69px;top:1102.56px;font-size:16px;font-weight:normal;color:#2a2a2a;transform:scaleX(0.8000);-webkit-text-stroke:0.4px #2a2a2a">6.10</div>
<div class="t" style="left:342.04px;top:1102.56px;font-size:16px;font-weight:normal;color:#2a2a2a;transform:scaleX(0.8000);-webkit-text-stroke:0.4px #2a2a2a">2.74</div>
<div class="t" style="left:413.39px;top:1102.56px;font-size:16px;font-weight:normal;color:#2a2a2a;transform:scaleX(0.8000);-webkit-text-stroke:0.4px #2a2a2a">2.22</div>
<div class="t" style="left:483.79px;top:1102.56px;font-size:16px;font-weight:normal;color:#2a2a2a;transform:scaleX(0.8000);-webkit-text-stroke:0.4px #2a2a2a">9.29</div>
<div class="t" style="left:554.54px;top:1102.56px;font-size:16px;font-weight:normal;color:#2a2a2a;transform:scaleX(0.8000);-webkit-text-stroke:0.4px #2a2a2a">5.03</div>
<div class="t" style="left:626.19px;top:1102.56px;font-size:16px;font-weight:normal;color:#2a2a2a;transform:scaleX(0.8000);-webkit-text-stroke:0.4px #2a2a2a">2.26</div>
<div class="t" style="left:697.19px;top:1102.56px;font-size:16px;font-weight:normal;color:#2a2a2a;transform:scaleX(0.8000);-webkit-text-stroke:0.4px #2a2a2a">1.83</div>
<div class="t" style="left:196.58px;top:1119.93px;font-size:16px;font-weight:normal;color:#2a2a2a;transform:scaleX(0.8000);-webkit-text-stroke:0.4px #2a2a2a">10.96</div>
<div class="t" style="left:270.69px;top:1119.93px;font-size:16px;font-weight:normal;color:#2a2a2a;transform:scaleX(0.8000);-webkit-text-stroke:0.4px #2a2a2a">5.99</div>
<div class="t" style="left:342.04px;top:1119.93px;font-size:16px;font-weight:normal;color:#2a2a2a;transform:scaleX(0.8000);-webkit-text-stroke:0.4px #2a2a2a">2.64</div>
<div class="t" style="left:413.39px;top:1119.93px;font-size:16px;font-weight:normal;color:#2a2a2a;transform:scaleX(0.8000);-webkit-text-stroke:0.4px #2a2a2a">2.13</div>
<div class="t" style="left:483.79px;top:1119.93px;font-size:16px;font-weight:normal;color:#2a2a2a;transform:scaleX(0.8000);-webkit-text-stroke:0.4px #2a2a2a">9.07</div>
<div class="t" style="left:554.54px;top:1119.93px;font-size:16px;font-weight:normal;color:#2a2a2a;transform:scaleX(0.8000);-webkit-text-stroke:0.4px #2a2a2a">4.94</div>
<div class="t" style="left:626.19px;top:1119.93px;font-size:16px;font-weight:normal;color:#2a2a2a;transform:scaleX(0.8000);-webkit-text-stroke:0.4px #2a2a2a">2.16</div>
<div class="t" style="left:697.19px;top:1119.93px;font-size:16px;font-weight:normal;color:#2a2a2a;transform:scaleX(0.8000);-webkit-text-stroke:0.4px #2a2a2a">1.75</div>
<div class="t" style="left:196.58px;top:1137.31px;font-size:16px;font-weight:normal;color:#2a2a2a;transform:scaleX(0.8000);-webkit-text-stroke:0.4px #2a2a2a">10.67</div>
<div class="t" style="left:270.69px;top:1137.31px;font-size:16px;font-weight:normal;color:#2a2a2a;transform:scaleX(0.8000);-webkit-text-stroke:0.4px #2a2a2a">5.87</div>
<div class="t" style="left:342.04px;top:1137.31px;font-size:16px;font-weight:normal;color:#2a2a2a;transform:scaleX(0.8000);-webkit-text-stroke:0.4px #2a2a2a">2.53</div>
<div class="t" style="left:413.39px;top:1137.31px;font-size:16px;font-weight:normal;color:#2a2a2a;transform:scaleX(0.8000);-webkit-text-stroke:0.4px #2a2a2a">2.04</div>
<div class="t" style="left:483.79px;top:1137.31px;font-size:16px;font-weight:normal;color:#2a2a2a;transform:scaleX(0.8000);-webkit-text-stroke:0.4px #2a2a2a">8.86</div>
<div class="t" style="left:554.54px;top:1137.31px;font-size:16px;font-weight:normal;color:#2a2a2a;transform:scaleX(0.8000);-webkit-text-stroke:0.4px #2a2a2a">4.85</div>
<div class="t" style="left:626.19px;top:1137.31px;font-size:16px;font-weight:normal;color:#2a2a2a;transform:scaleX(0.8000);-webkit-text-stroke:0.4px #2a2a2a">2.07</div>
<div class="t" style="left:697.19px;top:1137.31px;font-size:16px;font-weight:normal;color:#2a2a2a;transform:scaleX(0.8000);-webkit-text-stroke:0.4px #2a2a2a">1.67</div>
<div class="t" style="left:196.58px;top:1154.69px;font-size:16px;font-weight:normal;color:#2a2a2a;transform:scaleX(0.8000);-webkit-text-stroke:0.4px #2a2a2a">10.37</div>
<div class="t" style="left:270.69px;top:1154.69px;font-size:16px;font-weight:normal;color:#2a2a2a;transform:scaleX(0.8000);-webkit-text-stroke:0.4px #2a2a2a">5.76</div>
<div class="t" style="left:342.04px;top:1154.69px;font-size:16px;font-weight:normal;color:#2a2a2a;transform:scaleX(0.8000);-webkit-text-stroke:0.4px #2a2a2a">2.43</div>
<div class="t" style="left:413.39px;top:1154.69px;font-size:16px;font-weight:normal;color:#2a2a2a;transform:scaleX(0.8000);-webkit-text-stroke:0.4px #2a2a2a">1.95</div>
<div class="t" style="left:483.79px;top:1154.69px;font-size:16px;font-weight:normal;color:#2a2a2a;transform:scaleX(0.8000);-webkit-text-stroke:0.4px #2a2a2a">8.64</div>
<div class="t" style="left:554.54px;top:1154.69px;font-size:16px;font-weight:normal;color:#2a2a2a;transform:scaleX(0.8000);-webkit-text-stroke:0.4px #2a2a2a">4.76</div>
<div class="t" style="left:626.19px;top:1154.69px;font-size:16px;font-weight:normal;color:#2a2a2a;transform:scaleX(0.8000);-webkit-text-stroke:0.4px #2a2a2a">1.97</div>
<div class="t" style="left:697.19px;top:1154.69px;font-size:16px;font-weight:normal;color:#2a2a2a;transform:scaleX(0.8000);-webkit-text-stroke:0.4px #2a2a2a">1.58</div>
<div class="t" style="left:196.58px;top:1172.06px;font-size:16px;font-weight:normal;color:#2a2a2a;transform:scaleX(0.8000);-webkit-text-stroke:0.4px #2a2a2a">10.08</div>
<div class="t" style="left:270.69px;top:1172.06px;font-size:16px;font-weight:normal;color:#2a2a2a;transform:scaleX(0.8000);-webkit-text-stroke:0.4px #2a2a2a">5.64</div>
<div class="t" style="left:342.04px;top:1172.06px;font-size:16px;font-weight:normal;color:#2a2a2a;transform:scaleX(0.8000);-webkit-text-stroke:0.4px #2a2a2a">2.33</div>
<div class="t" style="left:413.39px;top:1172.06px;font-size:16px;font-weight:normal;color:#2a2a2a;transform:scaleX(0.8000);-webkit-text-stroke:0.4px #2a2a2a">1.86</div>
<div class="t" style="left:483.79px;top:1172.06px;font-size:16px;font-weight:normal;color:#2a2a2a;transform:scaleX(0.8000);-webkit-text-stroke:0.4px #2a2a2a">8.43</div>
<div class="t" style="left:554.54px;top:1172.06px;font-size:16px;font-weight:normal;color:#2a2a2a;transform:scaleX(0.8000);-webkit-text-stroke:0.4px #2a2a2a">4.67</div>
<div class="t" style="left:626.19px;top:1172.06px;font-size:16px;font-weight:normal;color:#2a2a2a;transform:scaleX(0.8000);-webkit-text-stroke:0.4px #2a2a2a">1.88</div>
<div class="t" style="left:697.19px;top:1172.06px;font-size:16px;font-weight:normal;color:#2a2a2a;transform:scaleX(0.8000);-webkit-text-stroke:0.4px #2a2a2a">1.50</div>
<div class="t" style="left:20.40px;top:327.10px;font-size:13px;font-weight:normal;color:#262626;transform:scaleX(0.8604);-webkit-text-stroke:0.45px #262626">World class</div>
<div class="t" style="left:20.40px;top:343.10px;font-size:13px;font-weight:normal;color:#262626;transform:scaleX(0.8945);-webkit-text-stroke:0.45px #262626">(e.g., international pro)</div>
<div class="t" style="left:20.40px;top:445.40px;font-size:13px;font-weight:normal;color:#262626;transform:scaleX(0.8570);-webkit-text-stroke:0.45px #262626">Exceptional</div>
<div class="t" style="left:20.40px;top:461.40px;font-size:13px;font-weight:normal;color:#262626;transform:scaleX(0.8537);-webkit-text-stroke:0.45px #262626">(e.g., domestic pro)</div>
<div class="t" style="left:20.40px;top:565.03px;font-size:13px;font-weight:normal;color:#262626;transform:scaleX(0.8528);-webkit-text-stroke:0.45px #262626">Excellent (e.g., Cat. I)</div>
<div class="t" style="left:20.40px;top:669.36px;font-size:13px;font-weight:normal;color:#262626;transform:scaleX(0.8601);-webkit-text-stroke:0.45px #262626">Very good (e.g., Cat. II)</div>
<div class="t" style="left:20.40px;top:791.08px;font-size:13px;font-weight:normal;color:#262626;transform:scaleX(0.8493);-webkit-text-stroke:0.45px #262626">Good (e.g., Cat. III)</div>
<div class="t" style="left:20.40px;top:895.40px;font-size:13px;font-weight:normal;color:#262626;transform:scaleX(0.8658);-webkit-text-stroke:0.45px #262626">Moderate (e.g., Cat. IV)</div>
<div class="t" style="left:20.40px;top:999.73px;font-size:13px;font-weight:normal;color:#262626;transform:scaleX(0.8255);-webkit-text-stroke:0.45px #262626">Fair (e.g., Cat. V)</div>
<div class="t" style="left:20.40px;top:1104.06px;font-size:13px;font-weight:normal;color:#262626;transform:scaleX(0.8770);-webkit-text-stroke:0.45px #262626">Untrained (nonracer)</div>
<svg class="a" style="left:0;top:0" width="750" height="1334"><path d="M157.0 265.6H148.5V334.6L139.5 341.1L148.5 346.6V418.9H157.5 M173.0 384.1H164.5V453.2L155.5 459.8L164.5 465.2V537.3H173.5 M157.0 502.6H148.5V564.6L139.5 571.1L148.5 576.6V641.8H157.5 M173.0 606.9H164.5V669.0L155.5 675.5L164.5 681.0V746.3H173.5 M157.0 728.6H148.5V790.7L139.5 797.2L148.5 802.7V868.2H157.5 M173.0 833.0H164.5V895.0L155.5 901.5L164.5 907.0V972.7H173.5 M157.0 937.3H148.5V999.3L139.5 1005.8L148.5 1011.3V1077.2H157.5 M173.0 1041.6H164.5V1103.7L155.5 1110.2L164.5 1115.7V1181.7H173.5" fill="none" stroke="#505050" stroke-width="1.6"/></svg>
</body></html>
